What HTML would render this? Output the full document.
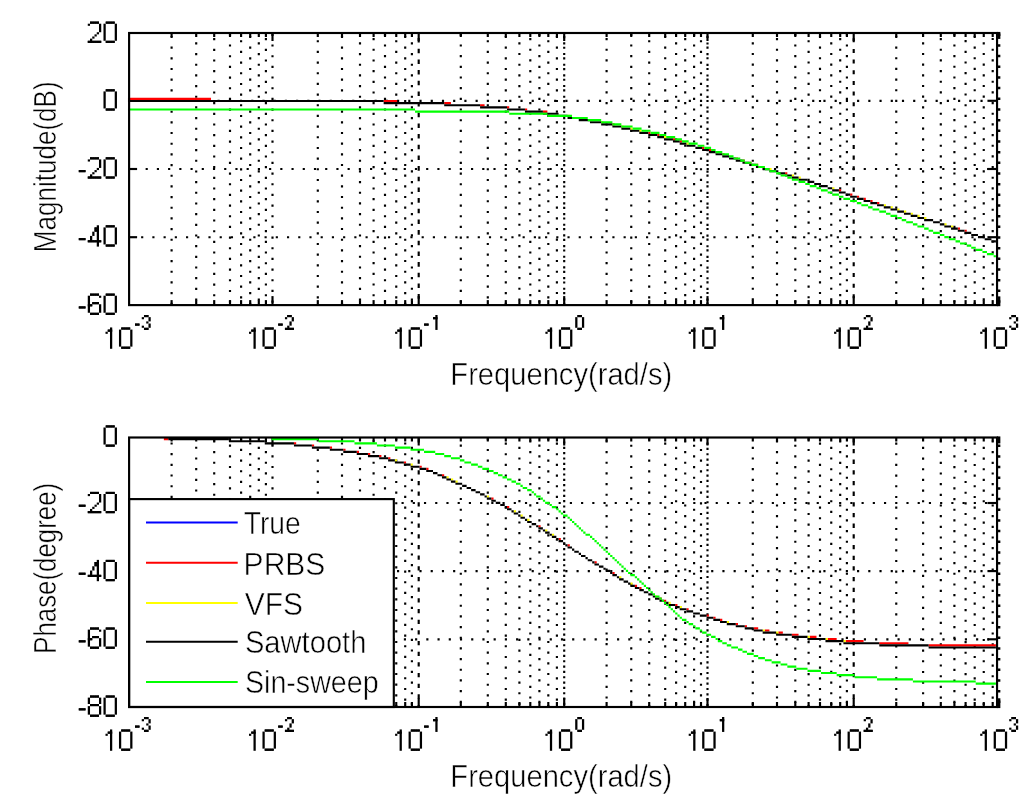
<!DOCTYPE html>
<html lang="en">
<head>
<meta charset="utf-8">
<title>Bode plot</title>
<style>
html,body{margin:0;padding:0;background:#fff;}
body{width:1024px;height:802px;overflow:hidden;font-family:"Liberation Sans",sans-serif;}
svg{display:block;}
</style>
</head>
<body>
<svg width="1024" height="802" viewBox="0 0 1024 802" font-family='"Liberation Sans", sans-serif' fill="#000">
<rect width="1024" height="802" fill="#fff"/>
<line x1="171.6" y1="33" x2="171.6" y2="305.1" stroke="#000" stroke-width="2.15" stroke-dasharray="2.15 8.52" stroke-dashoffset="-2.94"/>
<line x1="196.2" y1="33" x2="196.2" y2="305.1" stroke="#000" stroke-width="2.15" stroke-dasharray="2.15 8.52" stroke-dashoffset="-9.34"/>
<line x1="214.2" y1="33" x2="214.2" y2="305.1" stroke="#000" stroke-width="2.15" stroke-dasharray="2.15 8.52" stroke-dashoffset="-5.07"/>
<line x1="230" y1="33" x2="230" y2="305.1" stroke="#000" stroke-width="2.15" stroke-dasharray="2.15 8.52" stroke-dashoffset="-0.8"/>
<line x1="241.1" y1="33" x2="241.1" y2="305.1" stroke="#000" stroke-width="2.15" stroke-dasharray="2.15 8.52" stroke-dashoffset="-7.2"/>
<line x1="250.2" y1="33" x2="250.2" y2="305.1" stroke="#000" stroke-width="2.15" stroke-dasharray="2.15 8.52" stroke-dashoffset="-2.92"/>
<line x1="258.8" y1="33" x2="258.8" y2="305.1" stroke="#000" stroke-width="2.15" stroke-dasharray="2.15 8.52" stroke-dashoffset="-9.33"/>
<line x1="265.9" y1="33" x2="265.9" y2="305.1" stroke="#000" stroke-width="2.15" stroke-dasharray="2.15 8.52" stroke-dashoffset="-5.06"/>
<line x1="272.5" y1="33" x2="272.5" y2="305.1" stroke="#000" stroke-width="2.15" stroke-dasharray="2.15 8.52" stroke-dashoffset="-0.79"/>
<line x1="317.8" y1="33" x2="317.8" y2="305.1" stroke="#000" stroke-width="2.15" stroke-dasharray="2.15 8.52" stroke-dashoffset="-7.18"/>
<line x1="342" y1="33" x2="342" y2="305.1" stroke="#000" stroke-width="2.15" stroke-dasharray="2.15 8.52" stroke-dashoffset="-2.91"/>
<line x1="360" y1="33" x2="360" y2="305.1" stroke="#000" stroke-width="2.15" stroke-dasharray="2.15 8.52" stroke-dashoffset="-9.32"/>
<line x1="373.6" y1="33" x2="373.6" y2="305.1" stroke="#000" stroke-width="2.15" stroke-dasharray="2.15 8.52" stroke-dashoffset="-5.05"/>
<line x1="385" y1="33" x2="385" y2="305.1" stroke="#000" stroke-width="2.15" stroke-dasharray="2.15 8.52" stroke-dashoffset="-0.78"/>
<line x1="396.25" y1="33" x2="396.25" y2="305.1" stroke="#000" stroke-width="2.15" stroke-dasharray="2.15 8.52" stroke-dashoffset="-7.18"/>
<line x1="405.2" y1="33" x2="405.2" y2="305.1" stroke="#000" stroke-width="2.15" stroke-dasharray="2.15 8.52" stroke-dashoffset="-2.9"/>
<line x1="411.9" y1="33" x2="411.9" y2="305.1" stroke="#000" stroke-width="2.15" stroke-dasharray="2.15 8.52" stroke-dashoffset="-9.31"/>
<line x1="418.7" y1="33" x2="418.7" y2="305.1" stroke="#000" stroke-width="2.15" stroke-dasharray="4.55 6.12" stroke-dashoffset="-5.04"/>
<line x1="460.8" y1="33" x2="460.8" y2="305.1" stroke="#000" stroke-width="2.15" stroke-dasharray="2.15 8.52" stroke-dashoffset="-0.77"/>
<line x1="487.8" y1="33" x2="487.8" y2="305.1" stroke="#000" stroke-width="2.15" stroke-dasharray="2.15 8.52" stroke-dashoffset="-7.17"/>
<line x1="505.8" y1="33" x2="505.8" y2="305.1" stroke="#000" stroke-width="2.15" stroke-dasharray="2.15 8.52" stroke-dashoffset="-2.9"/>
<line x1="519.4" y1="33" x2="519.4" y2="305.1" stroke="#000" stroke-width="2.15" stroke-dasharray="2.15 8.52" stroke-dashoffset="-9.3"/>
<line x1="530.3" y1="33" x2="530.3" y2="305.1" stroke="#000" stroke-width="2.15" stroke-dasharray="2.15 8.52" stroke-dashoffset="-5.03"/>
<line x1="539.4" y1="33" x2="539.4" y2="305.1" stroke="#000" stroke-width="2.15" stroke-dasharray="2.15 8.52" stroke-dashoffset="-0.76"/>
<line x1="548.3" y1="33" x2="548.3" y2="305.1" stroke="#000" stroke-width="2.15" stroke-dasharray="2.15 8.52" stroke-dashoffset="-7.16"/>
<line x1="556.9" y1="33" x2="556.9" y2="305.1" stroke="#000" stroke-width="2.15" stroke-dasharray="2.15 8.52" stroke-dashoffset="-2.89"/>
<line x1="564.2" y1="33" x2="564.2" y2="305.1" stroke="#000" stroke-width="2.15" stroke-dasharray="2.15 8.52" stroke-dashoffset="-9.29"/>
<line x1="564.2" y1="33" x2="564.2" y2="305.1" stroke="#000" stroke-width="2.15" stroke-dasharray="2.15 8.52" stroke-dashoffset="-3.02"/>
<line x1="606.6" y1="33" x2="606.6" y2="305.1" stroke="#000" stroke-width="2.15" stroke-dasharray="2.15 8.52" stroke-dashoffset="-5.02"/>
<line x1="631.25" y1="33" x2="631.25" y2="305.1" stroke="#000" stroke-width="2.15" stroke-dasharray="2.15 8.52" stroke-dashoffset="-0.75"/>
<line x1="649.2" y1="33" x2="649.2" y2="305.1" stroke="#000" stroke-width="2.15" stroke-dasharray="2.15 8.52" stroke-dashoffset="-7.15"/>
<line x1="665.2" y1="33" x2="665.2" y2="305.1" stroke="#000" stroke-width="2.15" stroke-dasharray="2.15 8.52" stroke-dashoffset="-2.88"/>
<line x1="676.1" y1="33" x2="676.1" y2="305.1" stroke="#000" stroke-width="2.15" stroke-dasharray="2.15 8.52" stroke-dashoffset="-9.28"/>
<line x1="685.2" y1="33" x2="685.2" y2="305.1" stroke="#000" stroke-width="2.15" stroke-dasharray="2.15 8.52" stroke-dashoffset="-5.01"/>
<line x1="694.1" y1="33" x2="694.1" y2="305.1" stroke="#000" stroke-width="2.15" stroke-dasharray="2.15 8.52" stroke-dashoffset="-0.74"/>
<line x1="701" y1="33" x2="701" y2="305.1" stroke="#000" stroke-width="2.15" stroke-dasharray="2.15 8.52" stroke-dashoffset="-7.14"/>
<line x1="707.5" y1="33" x2="707.5" y2="305.1" stroke="#000" stroke-width="2.15" stroke-dasharray="2.15 8.52" stroke-dashoffset="-2.87"/>
<line x1="707.5" y1="33" x2="707.5" y2="305.1" stroke="#000" stroke-width="2.15" stroke-dasharray="2.15 8.52" stroke-dashoffset="-9.44"/>
<line x1="752.8" y1="33" x2="752.8" y2="305.1" stroke="#000" stroke-width="2.15" stroke-dasharray="2.15 8.52" stroke-dashoffset="-9.27"/>
<line x1="777" y1="33" x2="777" y2="305.1" stroke="#000" stroke-width="2.15" stroke-dasharray="2.15 8.52" stroke-dashoffset="-5"/>
<line x1="795.3" y1="33" x2="795.3" y2="305.1" stroke="#000" stroke-width="2.15" stroke-dasharray="2.15 8.52" stroke-dashoffset="-0.73"/>
<line x1="808.6" y1="33" x2="808.6" y2="305.1" stroke="#000" stroke-width="2.15" stroke-dasharray="2.15 8.52" stroke-dashoffset="-7.13"/>
<line x1="820" y1="33" x2="820" y2="305.1" stroke="#000" stroke-width="2.15" stroke-dasharray="2.15 8.52" stroke-dashoffset="-2.86"/>
<line x1="831.25" y1="33" x2="831.25" y2="305.1" stroke="#000" stroke-width="2.15" stroke-dasharray="2.15 8.52" stroke-dashoffset="-9.26"/>
<line x1="840.2" y1="33" x2="840.2" y2="305.1" stroke="#000" stroke-width="2.15" stroke-dasharray="2.15 8.52" stroke-dashoffset="-4.99"/>
<line x1="846.9" y1="33" x2="846.9" y2="305.1" stroke="#000" stroke-width="2.15" stroke-dasharray="2.15 8.52" stroke-dashoffset="-0.72"/>
<line x1="853.7" y1="33" x2="853.7" y2="305.1" stroke="#000" stroke-width="2.15" stroke-dasharray="4.05 6.62" stroke-dashoffset="-5.22"/>
<line x1="896.25" y1="33" x2="896.25" y2="305.1" stroke="#000" stroke-width="2.15" stroke-dasharray="2.15 8.52" stroke-dashoffset="-2.85"/>
<line x1="923.1" y1="33" x2="923.1" y2="305.1" stroke="#000" stroke-width="2.15" stroke-dasharray="2.15 8.52" stroke-dashoffset="-9.25"/>
<line x1="940.8" y1="33" x2="940.8" y2="305.1" stroke="#000" stroke-width="2.15" stroke-dasharray="2.15 8.52" stroke-dashoffset="-4.98"/>
<line x1="954.4" y1="33" x2="954.4" y2="305.1" stroke="#000" stroke-width="2.15" stroke-dasharray="2.15 8.52" stroke-dashoffset="-0.71"/>
<line x1="965.6" y1="33" x2="965.6" y2="305.1" stroke="#000" stroke-width="2.15" stroke-dasharray="2.15 8.52" stroke-dashoffset="-7.11"/>
<line x1="974.7" y1="33" x2="974.7" y2="305.1" stroke="#000" stroke-width="2.15" stroke-dasharray="2.15 8.52" stroke-dashoffset="-2.84"/>
<line x1="983.75" y1="33" x2="983.75" y2="305.1" stroke="#000" stroke-width="2.15" stroke-dasharray="2.15 8.52" stroke-dashoffset="-9.24"/>
<line x1="992.7" y1="33" x2="992.7" y2="305.1" stroke="#000" stroke-width="2.15" stroke-dasharray="2.15 8.52" stroke-dashoffset="-4.97"/>
<line x1="999.15" y1="33" x2="999.15" y2="305.1" stroke="#000" stroke-width="2.4" stroke-dasharray="2.5 8.17" stroke-dashoffset="-0.52"/>
<line x1="138.1" y1="100.8" x2="989.05" y2="100.8" stroke="#000" stroke-width="2.15" stroke-dasharray="2.15 9.07" stroke-dashoffset="-0.87"/>
<line x1="138.1" y1="169" x2="989.05" y2="169" stroke="#000" stroke-width="2.15" stroke-dasharray="2.15 9.07" stroke-dashoffset="-7.53"/>
<line x1="138.1" y1="237.2" x2="989.05" y2="237.2" stroke="#000" stroke-width="2.15" stroke-dasharray="2.15 9.07" stroke-dashoffset="-3.02"/>
<line x1="171.6" y1="305.1" x2="171.6" y2="300.1" stroke="#000" stroke-width="2.15"/>
<line x1="171.6" y1="33" x2="171.6" y2="37" stroke="#000" stroke-width="2.15"/>
<line x1="196.2" y1="305.1" x2="196.2" y2="300.1" stroke="#000" stroke-width="2.15"/>
<line x1="196.2" y1="33" x2="196.2" y2="37" stroke="#000" stroke-width="2.15"/>
<line x1="214.2" y1="305.1" x2="214.2" y2="300.1" stroke="#000" stroke-width="2.15"/>
<line x1="214.2" y1="33" x2="214.2" y2="37" stroke="#000" stroke-width="2.15"/>
<line x1="230" y1="305.1" x2="230" y2="300.1" stroke="#000" stroke-width="2.15"/>
<line x1="230" y1="33" x2="230" y2="37" stroke="#000" stroke-width="2.15"/>
<line x1="241.1" y1="305.1" x2="241.1" y2="300.1" stroke="#000" stroke-width="2.15"/>
<line x1="241.1" y1="33" x2="241.1" y2="37" stroke="#000" stroke-width="2.15"/>
<line x1="250.2" y1="305.1" x2="250.2" y2="300.1" stroke="#000" stroke-width="2.15"/>
<line x1="250.2" y1="33" x2="250.2" y2="37" stroke="#000" stroke-width="2.15"/>
<line x1="258.8" y1="305.1" x2="258.8" y2="300.1" stroke="#000" stroke-width="2.15"/>
<line x1="258.8" y1="33" x2="258.8" y2="37" stroke="#000" stroke-width="2.15"/>
<line x1="265.9" y1="305.1" x2="265.9" y2="300.1" stroke="#000" stroke-width="2.15"/>
<line x1="265.9" y1="33" x2="265.9" y2="37" stroke="#000" stroke-width="2.15"/>
<line x1="272.5" y1="305.1" x2="272.5" y2="296.1" stroke="#000" stroke-width="2.15"/>
<line x1="272.5" y1="33" x2="272.5" y2="41" stroke="#000" stroke-width="2.15"/>
<line x1="317.8" y1="305.1" x2="317.8" y2="300.1" stroke="#000" stroke-width="2.15"/>
<line x1="317.8" y1="33" x2="317.8" y2="37" stroke="#000" stroke-width="2.15"/>
<line x1="342" y1="305.1" x2="342" y2="300.1" stroke="#000" stroke-width="2.15"/>
<line x1="342" y1="33" x2="342" y2="37" stroke="#000" stroke-width="2.15"/>
<line x1="360" y1="305.1" x2="360" y2="300.1" stroke="#000" stroke-width="2.15"/>
<line x1="360" y1="33" x2="360" y2="37" stroke="#000" stroke-width="2.15"/>
<line x1="373.6" y1="305.1" x2="373.6" y2="300.1" stroke="#000" stroke-width="2.15"/>
<line x1="373.6" y1="33" x2="373.6" y2="37" stroke="#000" stroke-width="2.15"/>
<line x1="385" y1="305.1" x2="385" y2="300.1" stroke="#000" stroke-width="2.15"/>
<line x1="385" y1="33" x2="385" y2="37" stroke="#000" stroke-width="2.15"/>
<line x1="396.25" y1="305.1" x2="396.25" y2="300.1" stroke="#000" stroke-width="2.15"/>
<line x1="396.25" y1="33" x2="396.25" y2="37" stroke="#000" stroke-width="2.15"/>
<line x1="405.2" y1="305.1" x2="405.2" y2="300.1" stroke="#000" stroke-width="2.15"/>
<line x1="405.2" y1="33" x2="405.2" y2="37" stroke="#000" stroke-width="2.15"/>
<line x1="411.9" y1="305.1" x2="411.9" y2="300.1" stroke="#000" stroke-width="2.15"/>
<line x1="411.9" y1="33" x2="411.9" y2="37" stroke="#000" stroke-width="2.15"/>
<line x1="418.7" y1="305.1" x2="418.7" y2="296.1" stroke="#000" stroke-width="2.15"/>
<line x1="418.7" y1="33" x2="418.7" y2="41" stroke="#000" stroke-width="2.15"/>
<line x1="460.8" y1="305.1" x2="460.8" y2="300.1" stroke="#000" stroke-width="2.15"/>
<line x1="460.8" y1="33" x2="460.8" y2="37" stroke="#000" stroke-width="2.15"/>
<line x1="487.8" y1="305.1" x2="487.8" y2="300.1" stroke="#000" stroke-width="2.15"/>
<line x1="487.8" y1="33" x2="487.8" y2="37" stroke="#000" stroke-width="2.15"/>
<line x1="505.8" y1="305.1" x2="505.8" y2="300.1" stroke="#000" stroke-width="2.15"/>
<line x1="505.8" y1="33" x2="505.8" y2="37" stroke="#000" stroke-width="2.15"/>
<line x1="519.4" y1="305.1" x2="519.4" y2="300.1" stroke="#000" stroke-width="2.15"/>
<line x1="519.4" y1="33" x2="519.4" y2="37" stroke="#000" stroke-width="2.15"/>
<line x1="530.3" y1="305.1" x2="530.3" y2="300.1" stroke="#000" stroke-width="2.15"/>
<line x1="530.3" y1="33" x2="530.3" y2="37" stroke="#000" stroke-width="2.15"/>
<line x1="539.4" y1="305.1" x2="539.4" y2="300.1" stroke="#000" stroke-width="2.15"/>
<line x1="539.4" y1="33" x2="539.4" y2="37" stroke="#000" stroke-width="2.15"/>
<line x1="548.3" y1="305.1" x2="548.3" y2="300.1" stroke="#000" stroke-width="2.15"/>
<line x1="548.3" y1="33" x2="548.3" y2="37" stroke="#000" stroke-width="2.15"/>
<line x1="556.9" y1="305.1" x2="556.9" y2="300.1" stroke="#000" stroke-width="2.15"/>
<line x1="556.9" y1="33" x2="556.9" y2="37" stroke="#000" stroke-width="2.15"/>
<line x1="564.2" y1="305.1" x2="564.2" y2="296.1" stroke="#000" stroke-width="2.15"/>
<line x1="564.2" y1="33" x2="564.2" y2="41" stroke="#000" stroke-width="2.15"/>
<line x1="606.6" y1="305.1" x2="606.6" y2="300.1" stroke="#000" stroke-width="2.15"/>
<line x1="606.6" y1="33" x2="606.6" y2="37" stroke="#000" stroke-width="2.15"/>
<line x1="631.25" y1="305.1" x2="631.25" y2="300.1" stroke="#000" stroke-width="2.15"/>
<line x1="631.25" y1="33" x2="631.25" y2="37" stroke="#000" stroke-width="2.15"/>
<line x1="649.2" y1="305.1" x2="649.2" y2="300.1" stroke="#000" stroke-width="2.15"/>
<line x1="649.2" y1="33" x2="649.2" y2="37" stroke="#000" stroke-width="2.15"/>
<line x1="665.2" y1="305.1" x2="665.2" y2="300.1" stroke="#000" stroke-width="2.15"/>
<line x1="665.2" y1="33" x2="665.2" y2="37" stroke="#000" stroke-width="2.15"/>
<line x1="676.1" y1="305.1" x2="676.1" y2="300.1" stroke="#000" stroke-width="2.15"/>
<line x1="676.1" y1="33" x2="676.1" y2="37" stroke="#000" stroke-width="2.15"/>
<line x1="685.2" y1="305.1" x2="685.2" y2="300.1" stroke="#000" stroke-width="2.15"/>
<line x1="685.2" y1="33" x2="685.2" y2="37" stroke="#000" stroke-width="2.15"/>
<line x1="694.1" y1="305.1" x2="694.1" y2="300.1" stroke="#000" stroke-width="2.15"/>
<line x1="694.1" y1="33" x2="694.1" y2="37" stroke="#000" stroke-width="2.15"/>
<line x1="701" y1="305.1" x2="701" y2="300.1" stroke="#000" stroke-width="2.15"/>
<line x1="701" y1="33" x2="701" y2="37" stroke="#000" stroke-width="2.15"/>
<line x1="707.5" y1="305.1" x2="707.5" y2="296.1" stroke="#000" stroke-width="2.15"/>
<line x1="707.5" y1="33" x2="707.5" y2="41" stroke="#000" stroke-width="2.15"/>
<line x1="752.8" y1="305.1" x2="752.8" y2="300.1" stroke="#000" stroke-width="2.15"/>
<line x1="752.8" y1="33" x2="752.8" y2="37" stroke="#000" stroke-width="2.15"/>
<line x1="777" y1="305.1" x2="777" y2="300.1" stroke="#000" stroke-width="2.15"/>
<line x1="777" y1="33" x2="777" y2="37" stroke="#000" stroke-width="2.15"/>
<line x1="795.3" y1="305.1" x2="795.3" y2="300.1" stroke="#000" stroke-width="2.15"/>
<line x1="795.3" y1="33" x2="795.3" y2="37" stroke="#000" stroke-width="2.15"/>
<line x1="808.6" y1="305.1" x2="808.6" y2="300.1" stroke="#000" stroke-width="2.15"/>
<line x1="808.6" y1="33" x2="808.6" y2="37" stroke="#000" stroke-width="2.15"/>
<line x1="820" y1="305.1" x2="820" y2="300.1" stroke="#000" stroke-width="2.15"/>
<line x1="820" y1="33" x2="820" y2="37" stroke="#000" stroke-width="2.15"/>
<line x1="831.25" y1="305.1" x2="831.25" y2="300.1" stroke="#000" stroke-width="2.15"/>
<line x1="831.25" y1="33" x2="831.25" y2="37" stroke="#000" stroke-width="2.15"/>
<line x1="840.2" y1="305.1" x2="840.2" y2="300.1" stroke="#000" stroke-width="2.15"/>
<line x1="840.2" y1="33" x2="840.2" y2="37" stroke="#000" stroke-width="2.15"/>
<line x1="846.9" y1="305.1" x2="846.9" y2="300.1" stroke="#000" stroke-width="2.15"/>
<line x1="846.9" y1="33" x2="846.9" y2="37" stroke="#000" stroke-width="2.15"/>
<line x1="853.7" y1="305.1" x2="853.7" y2="296.1" stroke="#000" stroke-width="2.15"/>
<line x1="853.7" y1="33" x2="853.7" y2="41" stroke="#000" stroke-width="2.15"/>
<line x1="896.25" y1="305.1" x2="896.25" y2="300.1" stroke="#000" stroke-width="2.15"/>
<line x1="896.25" y1="33" x2="896.25" y2="37" stroke="#000" stroke-width="2.15"/>
<line x1="923.1" y1="305.1" x2="923.1" y2="300.1" stroke="#000" stroke-width="2.15"/>
<line x1="923.1" y1="33" x2="923.1" y2="37" stroke="#000" stroke-width="2.15"/>
<line x1="940.8" y1="305.1" x2="940.8" y2="300.1" stroke="#000" stroke-width="2.15"/>
<line x1="940.8" y1="33" x2="940.8" y2="37" stroke="#000" stroke-width="2.15"/>
<line x1="954.4" y1="305.1" x2="954.4" y2="300.1" stroke="#000" stroke-width="2.15"/>
<line x1="954.4" y1="33" x2="954.4" y2="37" stroke="#000" stroke-width="2.15"/>
<line x1="965.6" y1="305.1" x2="965.6" y2="300.1" stroke="#000" stroke-width="2.15"/>
<line x1="965.6" y1="33" x2="965.6" y2="37" stroke="#000" stroke-width="2.15"/>
<line x1="974.7" y1="305.1" x2="974.7" y2="300.1" stroke="#000" stroke-width="2.15"/>
<line x1="974.7" y1="33" x2="974.7" y2="37" stroke="#000" stroke-width="2.15"/>
<line x1="983.75" y1="305.1" x2="983.75" y2="300.1" stroke="#000" stroke-width="2.15"/>
<line x1="983.75" y1="33" x2="983.75" y2="37" stroke="#000" stroke-width="2.15"/>
<line x1="992.7" y1="305.1" x2="992.7" y2="300.1" stroke="#000" stroke-width="2.15"/>
<line x1="992.7" y1="33" x2="992.7" y2="37" stroke="#000" stroke-width="2.15"/>
<line x1="129.1" y1="100.8" x2="137.1" y2="100.8" stroke="#000" stroke-width="2.15"/>
<line x1="997.05" y1="100.8" x2="987.45" y2="100.8" stroke="#000" stroke-width="2.15"/>
<line x1="129.1" y1="169" x2="137.1" y2="169" stroke="#000" stroke-width="2.15"/>
<line x1="997.05" y1="169" x2="987.45" y2="169" stroke="#000" stroke-width="2.15"/>
<line x1="129.1" y1="237.2" x2="137.1" y2="237.2" stroke="#000" stroke-width="2.15"/>
<line x1="997.05" y1="237.2" x2="987.45" y2="237.2" stroke="#000" stroke-width="2.15"/>
<path fill="#f00" d="M127.98 97.85h82.98v2.13h-82.98zM383.65 99.98h13.46v2.13h-13.46zM444.2 102.1h6.73v2.13h-6.73zM480.08 104.23h4.49v2.13h-4.49zM506.99 106.35h2.24v2.13h-2.24zM524.94 108.48h2.24v2.13h-2.24zM542.88 110.61h4.49v2.13h-4.49zM578.76 116.98h2.24v2.13h-2.24zM612.4 123.36h2.24v2.13h-2.24zM648.29 131.87h2.24v2.13h-2.24zM657.26 133.99h2.24v2.13h-2.24zM672.95 138.25h2.24v2.13h-2.24zM679.68 140.37h2.24v2.13h-2.24zM702.11 146.75h2.24v2.13h-2.24zM708.84 148.88h2.24v2.13h-2.24zM715.57 151h2.24v2.13h-2.24zM722.29 153.13h2.24v2.13h-2.24zM735.75 157.38h2.24v2.13h-2.24zM742.48 159.51h2.24v2.13h-2.24zM749.21 161.64h2.24v2.13h-2.24zM755.93 163.76h2.24v2.13h-2.24zM785.09 172.27h2.24v2.13h-2.24zM838.91 189.28h2.24v2.13h-2.24zM850.13 193.53h2.24v2.13h-2.24zM856.86 195.65h2.24v2.13h-2.24zM863.58 197.78h2.24v2.13h-2.24zM870.31 199.91h2.24v2.13h-2.24zM877.04 202.03h2.24v2.13h-2.24zM957.78 227.55h2.24v2.13h-2.24zM964.51 229.67h2.24v2.13h-2.24z"/>
<path fill="#ff0" d="M567.55 114.86h2.24v2.13h-2.24zM589.97 119.11h2.24v2.13h-2.24zM601.19 121.24h2.24v2.13h-2.24zM621.37 125.49h2.24v2.13h-2.24zM630.34 127.62h2.24v2.13h-2.24zM639.31 129.74h2.24v2.13h-2.24zM663.98 136.12h2.24v2.13h-2.24zM686.41 142.5h2.24v2.13h-2.24zM762.66 165.89h2.24v2.13h-2.24zM769.39 168.01h2.24v2.13h-2.24zM791.82 174.39h2.24v2.13h-2.24zM798.55 176.52h2.24v2.13h-2.24zM832.19 187.15h2.24v2.13h-2.24zM883.77 204.16h2.24v2.13h-2.24zM890.5 206.29h2.24v2.13h-2.24zM897.22 208.41h2.24v2.13h-2.24zM903.95 210.54h2.24v2.13h-2.24zM910.68 212.66h2.24v2.13h-2.24zM917.41 214.79h2.24v2.13h-2.24zM924.14 216.92h2.24v2.13h-2.24zM944.32 223.29h2.24v2.13h-2.24zM951.05 225.42h2.24v2.13h-2.24z"/>
<path fill="#000" d="M127.98 99.98h255.67v2.13h-255.67zM383.65 102.1h60.55v2.13h-60.55zM444.2 104.23h35.88v2.13h-35.88zM480.08 106.35h26.91v2.13h-26.91zM506.99 108.48h17.94v2.13h-17.94zM524.94 110.61h17.94v2.13h-17.94zM542.88 112.73h15.7v2.13h-15.7zM558.58 114.86h8.97v2.13h-8.97zM567.55 116.98h11.21v2.13h-11.21zM578.76 119.11h11.21v2.13h-11.21zM589.97 121.24h11.21v2.13h-11.21zM601.19 123.36h11.21v2.13h-11.21zM612.4 125.49h8.97v2.13h-8.97zM621.37 127.62h8.97v2.13h-8.97zM630.34 129.74h8.97v2.13h-8.97zM639.31 131.87h8.97v2.13h-8.97zM648.29 133.99h8.97v2.13h-8.97zM657.26 136.12h6.73v2.13h-6.73zM663.98 138.25h8.97v2.13h-8.97zM672.95 140.37h6.73v2.13h-6.73zM679.68 142.5h6.73v2.13h-6.73zM686.41 144.63h8.97v2.13h-8.97zM695.38 146.75h6.73v2.13h-6.73zM702.11 148.88h6.73v2.13h-6.73zM708.84 151h6.73v2.13h-6.73zM715.57 153.13h6.73v2.13h-6.73zM722.29 155.26h6.73v2.13h-6.73zM729.02 157.38h6.73v2.13h-6.73zM735.75 159.51h6.73v2.13h-6.73zM742.48 161.64h6.73v2.13h-6.73zM749.21 163.76h6.73v2.13h-6.73zM755.93 165.89h6.73v2.13h-6.73zM762.66 168.01h6.73v2.13h-6.73zM769.39 170.14h8.97v2.13h-8.97zM778.36 172.27h6.73v2.13h-6.73zM785.09 174.39h6.73v2.13h-6.73zM791.82 176.52h6.73v2.13h-6.73zM798.55 178.64h8.97v2.13h-8.97zM807.52 180.77h6.73v2.13h-6.73zM814.24 182.9h6.73v2.13h-6.73zM820.97 185.02h6.73v2.13h-6.73zM827.7 187.15h4.49v2.13h-4.49zM832.19 189.28h6.73v2.13h-6.73zM838.91 191.4h6.73v2.13h-6.73zM845.64 193.53h4.49v2.13h-4.49zM850.13 195.65h6.73v2.13h-6.73zM856.86 197.78h6.73v2.13h-6.73zM863.58 199.91h6.73v2.13h-6.73zM870.31 202.03h6.73v2.13h-6.73zM877.04 204.16h6.73v2.13h-6.73zM883.77 206.29h6.73v2.13h-6.73zM890.5 208.41h6.73v2.13h-6.73zM897.22 210.54h6.73v2.13h-6.73zM903.95 212.66h6.73v2.13h-6.73zM910.68 214.79h6.73v2.13h-6.73zM917.41 216.92h6.73v2.13h-6.73zM924.14 219.04h8.97v2.13h-8.97zM933.11 221.17h6.73v2.13h-6.73zM939.84 223.29h4.49v2.13h-4.49zM944.32 225.42h6.73v2.13h-6.73zM951.05 227.55h6.73v2.13h-6.73zM957.78 229.67h6.73v2.13h-6.73zM964.51 231.8h6.73v2.13h-6.73zM971.23 233.93h6.73v2.13h-6.73zM977.96 236.05h6.73v2.13h-6.73zM984.69 238.18h6.73v2.13h-6.73zM991.42 240.3h4.49v2.13h-4.49z"/>
<path fill="#0f0" d="M127.98 108.48h287.07v2.13h-287.07zM415.04 110.61h94.19v2.13h-94.19zM509.24 112.73h38.13v2.13h-38.13zM547.36 114.86h24.67v2.13h-24.67zM572.03 116.98h15.7v2.13h-15.7zM587.73 119.11h13.46v2.13h-13.46zM601.19 121.24h11.21v2.13h-11.21zM612.4 123.36h8.97v2.13h-8.97zM621.37 125.49h11.21v2.13h-11.21zM632.59 127.62h8.97v2.13h-8.97zM641.56 129.74h8.97v2.13h-8.97zM650.53 131.87h8.97v2.13h-8.97zM659.5 133.99h6.73v2.13h-6.73zM666.23 136.12h8.97v2.13h-8.97zM675.2 138.25h6.73v2.13h-6.73zM681.93 140.37h6.73v2.13h-6.73zM688.65 142.5h8.97v2.13h-8.97zM697.62 144.63h6.73v2.13h-6.73zM704.35 146.75h6.73v2.13h-6.73zM711.08 148.88h4.49v2.13h-4.49zM715.57 151h6.73v2.13h-6.73zM722.29 153.13h6.73v2.13h-6.73zM729.02 155.26h4.49v2.13h-4.49zM733.51 157.38h6.73v2.13h-6.73zM740.24 159.51h4.49v2.13h-4.49zM744.72 161.64h6.73v2.13h-6.73zM751.45 163.76h6.73v2.13h-6.73zM758.18 165.89h6.73v2.13h-6.73zM764.91 168.01h4.49v2.13h-4.49zM769.39 170.14h6.73v2.13h-6.73zM776.12 172.27h4.49v2.13h-4.49zM780.6 174.39h6.73v2.13h-6.73zM787.33 176.52h4.49v2.13h-4.49zM791.82 178.64h6.73v2.13h-6.73zM798.55 180.77h6.73v2.13h-6.73zM805.27 182.9h4.49v2.13h-4.49zM809.76 185.02h6.73v2.13h-6.73zM816.49 187.15h4.49v2.13h-4.49zM820.97 189.28h6.73v2.13h-6.73zM827.7 191.4h4.49v2.13h-4.49zM832.19 193.53h6.73v2.13h-6.73zM838.91 195.65h4.49v2.13h-4.49zM843.4 197.78h6.73v2.13h-6.73zM850.13 199.91h6.73v2.13h-6.73zM856.86 202.03h4.49v2.13h-4.49zM861.34 204.16h6.73v2.13h-6.73zM868.07 206.29h4.49v2.13h-4.49zM872.56 208.41h6.73v2.13h-6.73zM879.28 210.54h6.73v2.13h-6.73zM886.01 212.66h4.49v2.13h-4.49zM890.5 214.79h6.73v2.13h-6.73zM897.22 216.92h4.49v2.13h-4.49zM901.71 219.04h4.49v2.13h-4.49zM906.2 221.17h6.73v2.13h-6.73zM912.92 223.29h4.49v2.13h-4.49zM917.41 225.42h6.73v2.13h-6.73zM924.14 227.55h4.49v2.13h-4.49zM928.62 229.67h4.49v2.13h-4.49zM933.11 231.8h6.73v2.13h-6.73zM939.84 233.93h4.49v2.13h-4.49zM944.32 236.05h4.49v2.13h-4.49zM948.81 238.18h6.73v2.13h-6.73zM955.53 240.3h4.49v2.13h-4.49zM960.02 242.43h6.73v2.13h-6.73zM966.75 244.56h4.49v2.13h-4.49zM971.23 246.68h4.49v2.13h-4.49zM975.72 248.81h6.73v2.13h-6.73zM982.45 250.94h4.49v2.13h-4.49zM986.93 253.06h6.73v2.13h-6.73zM993.66 255.19h2.24v2.13h-2.24z"/>
<rect x="129.1" y="33" width="867.95" height="272.1" fill="none" stroke="#000" stroke-width="2.15"/>
<rect x="996.85" y="31.93" width="3.5" height="7" fill="#000"/>
<rect x="996.85" y="296.38" width="3.5" height="9.8" fill="#000"/>
<line x1="171.6" y1="437.5" x2="171.6" y2="707" stroke="#000" stroke-width="2.15" stroke-dasharray="2.15 8.52" stroke-dashoffset="-4.95"/>
<line x1="196.2" y1="437.5" x2="196.2" y2="707" stroke="#000" stroke-width="2.15" stroke-dasharray="2.15 8.52" stroke-dashoffset="-9.22"/>
<line x1="214.2" y1="437.5" x2="214.2" y2="707" stroke="#000" stroke-width="2.15" stroke-dasharray="2.15 8.52" stroke-dashoffset="-2.81"/>
<line x1="230" y1="437.5" x2="230" y2="707" stroke="#000" stroke-width="2.15" stroke-dasharray="2.15 8.52" stroke-dashoffset="-7.09"/>
<line x1="241.1" y1="437.5" x2="241.1" y2="707" stroke="#000" stroke-width="2.15" stroke-dasharray="2.15 8.52" stroke-dashoffset="-0.69"/>
<line x1="250.2" y1="437.5" x2="250.2" y2="707" stroke="#000" stroke-width="2.15" stroke-dasharray="2.15 8.52" stroke-dashoffset="-4.95"/>
<line x1="258.8" y1="437.5" x2="258.8" y2="707" stroke="#000" stroke-width="2.15" stroke-dasharray="2.15 8.52" stroke-dashoffset="-9.23"/>
<line x1="265.9" y1="437.5" x2="265.9" y2="707" stroke="#000" stroke-width="2.15" stroke-dasharray="2.15 8.52" stroke-dashoffset="-2.83"/>
<line x1="272.5" y1="437.5" x2="272.5" y2="707" stroke="#000" stroke-width="2.15" stroke-dasharray="2.15 8.52" stroke-dashoffset="-7.09"/>
<line x1="317.8" y1="437.5" x2="317.8" y2="707" stroke="#000" stroke-width="2.15" stroke-dasharray="2.15 8.52" stroke-dashoffset="-0.69"/>
<line x1="342" y1="437.5" x2="342" y2="707" stroke="#000" stroke-width="2.15" stroke-dasharray="2.15 8.52" stroke-dashoffset="-4.97"/>
<line x1="360" y1="437.5" x2="360" y2="707" stroke="#000" stroke-width="2.15" stroke-dasharray="2.15 8.52" stroke-dashoffset="-9.23"/>
<line x1="373.6" y1="437.5" x2="373.6" y2="707" stroke="#000" stroke-width="2.15" stroke-dasharray="2.15 8.52" stroke-dashoffset="-2.83"/>
<line x1="385" y1="437.5" x2="385" y2="707" stroke="#000" stroke-width="2.15" stroke-dasharray="2.15 8.52" stroke-dashoffset="-7.11"/>
<line x1="396.25" y1="437.5" x2="396.25" y2="707" stroke="#000" stroke-width="2.15" stroke-dasharray="2.15 8.52" stroke-dashoffset="-0.7"/>
<line x1="405.2" y1="437.5" x2="405.2" y2="707" stroke="#000" stroke-width="2.15" stroke-dasharray="2.15 8.52" stroke-dashoffset="-4.97"/>
<line x1="411.9" y1="437.5" x2="411.9" y2="707" stroke="#000" stroke-width="2.15" stroke-dasharray="2.15 8.52" stroke-dashoffset="-9.24"/>
<line x1="418.7" y1="437.5" x2="418.7" y2="707" stroke="#000" stroke-width="2.15" stroke-dasharray="4.25 6.42" stroke-dashoffset="-0.74"/>
<line x1="460.8" y1="437.5" x2="460.8" y2="707" stroke="#000" stroke-width="2.15" stroke-dasharray="2.15 8.52" stroke-dashoffset="-7.11"/>
<line x1="487.8" y1="437.5" x2="487.8" y2="707" stroke="#000" stroke-width="2.15" stroke-dasharray="2.15 8.52" stroke-dashoffset="-0.72"/>
<line x1="505.8" y1="437.5" x2="505.8" y2="707" stroke="#000" stroke-width="2.15" stroke-dasharray="2.15 8.52" stroke-dashoffset="-4.98"/>
<line x1="519.4" y1="437.5" x2="519.4" y2="707" stroke="#000" stroke-width="2.15" stroke-dasharray="2.15 8.52" stroke-dashoffset="-9.25"/>
<line x1="530.3" y1="437.5" x2="530.3" y2="707" stroke="#000" stroke-width="2.15" stroke-dasharray="2.15 8.52" stroke-dashoffset="-2.85"/>
<line x1="539.4" y1="437.5" x2="539.4" y2="707" stroke="#000" stroke-width="2.15" stroke-dasharray="2.15 8.52" stroke-dashoffset="-7.12"/>
<line x1="548.3" y1="437.5" x2="548.3" y2="707" stroke="#000" stroke-width="2.15" stroke-dasharray="2.15 8.52" stroke-dashoffset="-0.72"/>
<line x1="556.9" y1="437.5" x2="556.9" y2="707" stroke="#000" stroke-width="2.15" stroke-dasharray="2.15 8.52" stroke-dashoffset="-4.99"/>
<line x1="564.2" y1="437.5" x2="564.2" y2="707" stroke="#000" stroke-width="2.15" stroke-dasharray="2.15 8.52" stroke-dashoffset="-9.27"/>
<line x1="564.2" y1="437.5" x2="564.2" y2="707" stroke="#000" stroke-width="2.15" stroke-dasharray="2.15 8.52" stroke-dashoffset="-3.92"/>
<line x1="606.6" y1="437.5" x2="606.6" y2="707" stroke="#000" stroke-width="2.15" stroke-dasharray="2.15 8.52" stroke-dashoffset="-2.86"/>
<line x1="631.25" y1="437.5" x2="631.25" y2="707" stroke="#000" stroke-width="2.15" stroke-dasharray="2.15 8.52" stroke-dashoffset="-7.13"/>
<line x1="649.2" y1="437.5" x2="649.2" y2="707" stroke="#000" stroke-width="2.15" stroke-dasharray="2.15 8.52" stroke-dashoffset="-0.74"/>
<line x1="665.2" y1="437.5" x2="665.2" y2="707" stroke="#000" stroke-width="2.15" stroke-dasharray="2.15 8.52" stroke-dashoffset="-5.01"/>
<line x1="676.1" y1="437.5" x2="676.1" y2="707" stroke="#000" stroke-width="2.15" stroke-dasharray="2.15 8.52" stroke-dashoffset="-9.28"/>
<line x1="685.2" y1="437.5" x2="685.2" y2="707" stroke="#000" stroke-width="2.15" stroke-dasharray="2.15 8.52" stroke-dashoffset="-2.88"/>
<line x1="694.1" y1="437.5" x2="694.1" y2="707" stroke="#000" stroke-width="2.15" stroke-dasharray="2.15 8.52" stroke-dashoffset="-7.14"/>
<line x1="701" y1="437.5" x2="701" y2="707" stroke="#000" stroke-width="2.15" stroke-dasharray="2.15 8.52" stroke-dashoffset="-0.74"/>
<line x1="707.5" y1="437.5" x2="707.5" y2="707" stroke="#000" stroke-width="2.15" stroke-dasharray="2.15 8.52" stroke-dashoffset="-5.02"/>
<line x1="707.5" y1="437.5" x2="707.5" y2="707" stroke="#000" stroke-width="2.15" stroke-dasharray="2.15 8.52" stroke-dashoffset="-10.34"/>
<line x1="752.8" y1="437.5" x2="752.8" y2="707" stroke="#000" stroke-width="2.15" stroke-dasharray="2.15 8.52" stroke-dashoffset="-9.28"/>
<line x1="777" y1="437.5" x2="777" y2="707" stroke="#000" stroke-width="2.15" stroke-dasharray="2.15 8.52" stroke-dashoffset="-2.89"/>
<line x1="795.3" y1="437.5" x2="795.3" y2="707" stroke="#000" stroke-width="2.15" stroke-dasharray="2.15 8.52" stroke-dashoffset="-7.16"/>
<line x1="808.6" y1="437.5" x2="808.6" y2="707" stroke="#000" stroke-width="2.15" stroke-dasharray="2.15 8.52" stroke-dashoffset="-0.75"/>
<line x1="820" y1="437.5" x2="820" y2="707" stroke="#000" stroke-width="2.15" stroke-dasharray="2.15 8.52" stroke-dashoffset="-5.02"/>
<line x1="831.25" y1="437.5" x2="831.25" y2="707" stroke="#000" stroke-width="2.15" stroke-dasharray="2.15 8.52" stroke-dashoffset="-9.3"/>
<line x1="840.2" y1="437.5" x2="840.2" y2="707" stroke="#000" stroke-width="2.15" stroke-dasharray="2.15 8.52" stroke-dashoffset="-2.89"/>
<line x1="846.9" y1="437.5" x2="846.9" y2="707" stroke="#000" stroke-width="2.15" stroke-dasharray="2.15 8.52" stroke-dashoffset="-7.17"/>
<line x1="853.7" y1="437.5" x2="853.7" y2="707" stroke="#000" stroke-width="2.15" stroke-dasharray="4.3 6.37" stroke-dashoffset="-0.76"/>
<line x1="896.25" y1="437.5" x2="896.25" y2="707" stroke="#000" stroke-width="2.15" stroke-dasharray="2.15 8.52" stroke-dashoffset="-5.03"/>
<line x1="923.1" y1="437.5" x2="923.1" y2="707" stroke="#000" stroke-width="2.15" stroke-dasharray="2.15 8.52" stroke-dashoffset="-9.31"/>
<line x1="940.8" y1="437.5" x2="940.8" y2="707" stroke="#000" stroke-width="2.15" stroke-dasharray="2.15 8.52" stroke-dashoffset="-2.9"/>
<line x1="954.4" y1="437.5" x2="954.4" y2="707" stroke="#000" stroke-width="2.15" stroke-dasharray="2.15 8.52" stroke-dashoffset="-7.18"/>
<line x1="965.6" y1="437.5" x2="965.6" y2="707" stroke="#000" stroke-width="2.15" stroke-dasharray="2.15 8.52" stroke-dashoffset="-0.78"/>
<line x1="974.7" y1="437.5" x2="974.7" y2="707" stroke="#000" stroke-width="2.15" stroke-dasharray="2.15 8.52" stroke-dashoffset="-5.04"/>
<line x1="983.75" y1="437.5" x2="983.75" y2="707" stroke="#000" stroke-width="2.15" stroke-dasharray="2.15 8.52" stroke-dashoffset="-9.32"/>
<line x1="992.7" y1="437.5" x2="992.7" y2="707" stroke="#000" stroke-width="2.15" stroke-dasharray="2.15 8.52" stroke-dashoffset="-2.91"/>
<line x1="999.15" y1="437.5" x2="999.15" y2="707" stroke="#000" stroke-width="2.4" stroke-dasharray="2.5 8.17" stroke-dashoffset="-7.01"/>
<line x1="138.1" y1="503" x2="989.05" y2="503" stroke="#000" stroke-width="2.15" stroke-dasharray="2.15 9.07" stroke-dashoffset="-5.37"/>
<line x1="138.1" y1="571.1" x2="989.05" y2="571.1" stroke="#000" stroke-width="2.15" stroke-dasharray="2.15 9.07" stroke-dashoffset="-0.84"/>
<line x1="138.1" y1="639.3" x2="989.05" y2="639.3" stroke="#000" stroke-width="2.15" stroke-dasharray="2.15 9.07" stroke-dashoffset="-7.69"/>
<line x1="171.6" y1="707" x2="171.6" y2="702" stroke="#000" stroke-width="2.15"/>
<line x1="171.6" y1="437.5" x2="171.6" y2="441.5" stroke="#000" stroke-width="2.15"/>
<line x1="196.2" y1="707" x2="196.2" y2="702" stroke="#000" stroke-width="2.15"/>
<line x1="196.2" y1="437.5" x2="196.2" y2="441.5" stroke="#000" stroke-width="2.15"/>
<line x1="214.2" y1="707" x2="214.2" y2="702" stroke="#000" stroke-width="2.15"/>
<line x1="214.2" y1="437.5" x2="214.2" y2="441.5" stroke="#000" stroke-width="2.15"/>
<line x1="230" y1="707" x2="230" y2="702" stroke="#000" stroke-width="2.15"/>
<line x1="230" y1="437.5" x2="230" y2="441.5" stroke="#000" stroke-width="2.15"/>
<line x1="241.1" y1="707" x2="241.1" y2="702" stroke="#000" stroke-width="2.15"/>
<line x1="241.1" y1="437.5" x2="241.1" y2="441.5" stroke="#000" stroke-width="2.15"/>
<line x1="250.2" y1="707" x2="250.2" y2="702" stroke="#000" stroke-width="2.15"/>
<line x1="250.2" y1="437.5" x2="250.2" y2="441.5" stroke="#000" stroke-width="2.15"/>
<line x1="258.8" y1="707" x2="258.8" y2="702" stroke="#000" stroke-width="2.15"/>
<line x1="258.8" y1="437.5" x2="258.8" y2="441.5" stroke="#000" stroke-width="2.15"/>
<line x1="265.9" y1="707" x2="265.9" y2="702" stroke="#000" stroke-width="2.15"/>
<line x1="265.9" y1="437.5" x2="265.9" y2="441.5" stroke="#000" stroke-width="2.15"/>
<line x1="272.5" y1="707" x2="272.5" y2="698" stroke="#000" stroke-width="2.15"/>
<line x1="272.5" y1="437.5" x2="272.5" y2="445.5" stroke="#000" stroke-width="2.15"/>
<line x1="317.8" y1="707" x2="317.8" y2="702" stroke="#000" stroke-width="2.15"/>
<line x1="317.8" y1="437.5" x2="317.8" y2="441.5" stroke="#000" stroke-width="2.15"/>
<line x1="342" y1="707" x2="342" y2="702" stroke="#000" stroke-width="2.15"/>
<line x1="342" y1="437.5" x2="342" y2="441.5" stroke="#000" stroke-width="2.15"/>
<line x1="360" y1="707" x2="360" y2="702" stroke="#000" stroke-width="2.15"/>
<line x1="360" y1="437.5" x2="360" y2="441.5" stroke="#000" stroke-width="2.15"/>
<line x1="373.6" y1="707" x2="373.6" y2="702" stroke="#000" stroke-width="2.15"/>
<line x1="373.6" y1="437.5" x2="373.6" y2="441.5" stroke="#000" stroke-width="2.15"/>
<line x1="385" y1="707" x2="385" y2="702" stroke="#000" stroke-width="2.15"/>
<line x1="385" y1="437.5" x2="385" y2="441.5" stroke="#000" stroke-width="2.15"/>
<line x1="396.25" y1="707" x2="396.25" y2="702" stroke="#000" stroke-width="2.15"/>
<line x1="396.25" y1="437.5" x2="396.25" y2="441.5" stroke="#000" stroke-width="2.15"/>
<line x1="405.2" y1="707" x2="405.2" y2="702" stroke="#000" stroke-width="2.15"/>
<line x1="405.2" y1="437.5" x2="405.2" y2="441.5" stroke="#000" stroke-width="2.15"/>
<line x1="411.9" y1="707" x2="411.9" y2="702" stroke="#000" stroke-width="2.15"/>
<line x1="411.9" y1="437.5" x2="411.9" y2="441.5" stroke="#000" stroke-width="2.15"/>
<line x1="418.7" y1="707" x2="418.7" y2="698" stroke="#000" stroke-width="2.15"/>
<line x1="418.7" y1="437.5" x2="418.7" y2="445.5" stroke="#000" stroke-width="2.15"/>
<line x1="460.8" y1="707" x2="460.8" y2="702" stroke="#000" stroke-width="2.15"/>
<line x1="460.8" y1="437.5" x2="460.8" y2="441.5" stroke="#000" stroke-width="2.15"/>
<line x1="487.8" y1="707" x2="487.8" y2="702" stroke="#000" stroke-width="2.15"/>
<line x1="487.8" y1="437.5" x2="487.8" y2="441.5" stroke="#000" stroke-width="2.15"/>
<line x1="505.8" y1="707" x2="505.8" y2="702" stroke="#000" stroke-width="2.15"/>
<line x1="505.8" y1="437.5" x2="505.8" y2="441.5" stroke="#000" stroke-width="2.15"/>
<line x1="519.4" y1="707" x2="519.4" y2="702" stroke="#000" stroke-width="2.15"/>
<line x1="519.4" y1="437.5" x2="519.4" y2="441.5" stroke="#000" stroke-width="2.15"/>
<line x1="530.3" y1="707" x2="530.3" y2="702" stroke="#000" stroke-width="2.15"/>
<line x1="530.3" y1="437.5" x2="530.3" y2="441.5" stroke="#000" stroke-width="2.15"/>
<line x1="539.4" y1="707" x2="539.4" y2="702" stroke="#000" stroke-width="2.15"/>
<line x1="539.4" y1="437.5" x2="539.4" y2="441.5" stroke="#000" stroke-width="2.15"/>
<line x1="548.3" y1="707" x2="548.3" y2="702" stroke="#000" stroke-width="2.15"/>
<line x1="548.3" y1="437.5" x2="548.3" y2="441.5" stroke="#000" stroke-width="2.15"/>
<line x1="556.9" y1="707" x2="556.9" y2="702" stroke="#000" stroke-width="2.15"/>
<line x1="556.9" y1="437.5" x2="556.9" y2="441.5" stroke="#000" stroke-width="2.15"/>
<line x1="564.2" y1="707" x2="564.2" y2="698" stroke="#000" stroke-width="2.15"/>
<line x1="564.2" y1="437.5" x2="564.2" y2="445.5" stroke="#000" stroke-width="2.15"/>
<line x1="606.6" y1="707" x2="606.6" y2="702" stroke="#000" stroke-width="2.15"/>
<line x1="606.6" y1="437.5" x2="606.6" y2="441.5" stroke="#000" stroke-width="2.15"/>
<line x1="631.25" y1="707" x2="631.25" y2="702" stroke="#000" stroke-width="2.15"/>
<line x1="631.25" y1="437.5" x2="631.25" y2="441.5" stroke="#000" stroke-width="2.15"/>
<line x1="649.2" y1="707" x2="649.2" y2="702" stroke="#000" stroke-width="2.15"/>
<line x1="649.2" y1="437.5" x2="649.2" y2="441.5" stroke="#000" stroke-width="2.15"/>
<line x1="665.2" y1="707" x2="665.2" y2="702" stroke="#000" stroke-width="2.15"/>
<line x1="665.2" y1="437.5" x2="665.2" y2="441.5" stroke="#000" stroke-width="2.15"/>
<line x1="676.1" y1="707" x2="676.1" y2="702" stroke="#000" stroke-width="2.15"/>
<line x1="676.1" y1="437.5" x2="676.1" y2="441.5" stroke="#000" stroke-width="2.15"/>
<line x1="685.2" y1="707" x2="685.2" y2="702" stroke="#000" stroke-width="2.15"/>
<line x1="685.2" y1="437.5" x2="685.2" y2="441.5" stroke="#000" stroke-width="2.15"/>
<line x1="694.1" y1="707" x2="694.1" y2="702" stroke="#000" stroke-width="2.15"/>
<line x1="694.1" y1="437.5" x2="694.1" y2="441.5" stroke="#000" stroke-width="2.15"/>
<line x1="701" y1="707" x2="701" y2="702" stroke="#000" stroke-width="2.15"/>
<line x1="701" y1="437.5" x2="701" y2="441.5" stroke="#000" stroke-width="2.15"/>
<line x1="707.5" y1="707" x2="707.5" y2="698" stroke="#000" stroke-width="2.15"/>
<line x1="707.5" y1="437.5" x2="707.5" y2="445.5" stroke="#000" stroke-width="2.15"/>
<line x1="752.8" y1="707" x2="752.8" y2="702" stroke="#000" stroke-width="2.15"/>
<line x1="752.8" y1="437.5" x2="752.8" y2="441.5" stroke="#000" stroke-width="2.15"/>
<line x1="777" y1="707" x2="777" y2="702" stroke="#000" stroke-width="2.15"/>
<line x1="777" y1="437.5" x2="777" y2="441.5" stroke="#000" stroke-width="2.15"/>
<line x1="795.3" y1="707" x2="795.3" y2="702" stroke="#000" stroke-width="2.15"/>
<line x1="795.3" y1="437.5" x2="795.3" y2="441.5" stroke="#000" stroke-width="2.15"/>
<line x1="808.6" y1="707" x2="808.6" y2="702" stroke="#000" stroke-width="2.15"/>
<line x1="808.6" y1="437.5" x2="808.6" y2="441.5" stroke="#000" stroke-width="2.15"/>
<line x1="820" y1="707" x2="820" y2="702" stroke="#000" stroke-width="2.15"/>
<line x1="820" y1="437.5" x2="820" y2="441.5" stroke="#000" stroke-width="2.15"/>
<line x1="831.25" y1="707" x2="831.25" y2="702" stroke="#000" stroke-width="2.15"/>
<line x1="831.25" y1="437.5" x2="831.25" y2="441.5" stroke="#000" stroke-width="2.15"/>
<line x1="840.2" y1="707" x2="840.2" y2="702" stroke="#000" stroke-width="2.15"/>
<line x1="840.2" y1="437.5" x2="840.2" y2="441.5" stroke="#000" stroke-width="2.15"/>
<line x1="846.9" y1="707" x2="846.9" y2="702" stroke="#000" stroke-width="2.15"/>
<line x1="846.9" y1="437.5" x2="846.9" y2="441.5" stroke="#000" stroke-width="2.15"/>
<line x1="853.7" y1="707" x2="853.7" y2="698" stroke="#000" stroke-width="2.15"/>
<line x1="853.7" y1="437.5" x2="853.7" y2="445.5" stroke="#000" stroke-width="2.15"/>
<line x1="896.25" y1="707" x2="896.25" y2="702" stroke="#000" stroke-width="2.15"/>
<line x1="896.25" y1="437.5" x2="896.25" y2="441.5" stroke="#000" stroke-width="2.15"/>
<line x1="923.1" y1="707" x2="923.1" y2="702" stroke="#000" stroke-width="2.15"/>
<line x1="923.1" y1="437.5" x2="923.1" y2="441.5" stroke="#000" stroke-width="2.15"/>
<line x1="940.8" y1="707" x2="940.8" y2="702" stroke="#000" stroke-width="2.15"/>
<line x1="940.8" y1="437.5" x2="940.8" y2="441.5" stroke="#000" stroke-width="2.15"/>
<line x1="954.4" y1="707" x2="954.4" y2="702" stroke="#000" stroke-width="2.15"/>
<line x1="954.4" y1="437.5" x2="954.4" y2="441.5" stroke="#000" stroke-width="2.15"/>
<line x1="965.6" y1="707" x2="965.6" y2="702" stroke="#000" stroke-width="2.15"/>
<line x1="965.6" y1="437.5" x2="965.6" y2="441.5" stroke="#000" stroke-width="2.15"/>
<line x1="974.7" y1="707" x2="974.7" y2="702" stroke="#000" stroke-width="2.15"/>
<line x1="974.7" y1="437.5" x2="974.7" y2="441.5" stroke="#000" stroke-width="2.15"/>
<line x1="983.75" y1="707" x2="983.75" y2="702" stroke="#000" stroke-width="2.15"/>
<line x1="983.75" y1="437.5" x2="983.75" y2="441.5" stroke="#000" stroke-width="2.15"/>
<line x1="992.7" y1="707" x2="992.7" y2="702" stroke="#000" stroke-width="2.15"/>
<line x1="992.7" y1="437.5" x2="992.7" y2="441.5" stroke="#000" stroke-width="2.15"/>
<line x1="129.1" y1="503" x2="137.1" y2="503" stroke="#000" stroke-width="2.15"/>
<line x1="997.05" y1="503" x2="987.45" y2="503" stroke="#000" stroke-width="2.15"/>
<line x1="129.1" y1="571.1" x2="137.1" y2="571.1" stroke="#000" stroke-width="2.15"/>
<line x1="997.05" y1="571.1" x2="987.45" y2="571.1" stroke="#000" stroke-width="2.15"/>
<line x1="129.1" y1="639.3" x2="137.1" y2="639.3" stroke="#000" stroke-width="2.15"/>
<line x1="997.05" y1="639.3" x2="987.45" y2="639.3" stroke="#000" stroke-width="2.15"/>
<path fill="#f00" d="M163.86 438.04h4.49v2.13h-4.49zM293.94 442.29h2.24v2.13h-2.24zM311.88 444.42h2.24v2.13h-2.24zM329.82 446.55h2.24v2.13h-2.24zM343.28 448.67h2.24v2.13h-2.24zM356.73 450.8h2.24v2.13h-2.24zM367.95 452.92h2.24v2.13h-2.24zM379.16 455.05h2.24v2.13h-2.24zM388.13 457.18h2.24v2.13h-2.24zM403.83 461.43h2.24v2.13h-2.24zM419.53 465.68h2.24v2.13h-2.24zM426.26 467.81h2.24v2.13h-2.24zM441.96 474.19h2.24v2.13h-2.24zM491.3 497.57h2.24v2.13h-2.24zM506.99 506.08h2.24v2.13h-2.24zM538.39 525.22h2.24v2.13h-2.24zM558.58 537.97h2.24v2.13h-2.24zM567.55 544.35h2.24v2.13h-2.24zM594.46 561.36h2.24v2.13h-2.24zM612.4 571.99h2.24v2.13h-2.24zM634.83 584.75h2.24v2.13h-2.24zM639.31 586.88h2.24v2.13h-2.24zM659.5 597.51h2.24v2.13h-2.24zM663.98 599.63h2.24v2.13h-2.24zM675.2 603.88h2.24v2.13h-2.24zM686.41 608.14h2.24v2.13h-2.24zM706.6 614.52h2.24v2.13h-2.24zM713.32 616.64h2.24v2.13h-2.24zM720.05 618.77h2.24v2.13h-2.24zM735.75 623.02h2.24v2.13h-2.24zM744.72 625.15h2.24v2.13h-2.24zM753.69 627.27h4.49v2.13h-4.49zM764.91 629.4h4.49v2.13h-4.49zM778.36 631.53h4.49v2.13h-4.49zM791.82 633.65h6.73v2.13h-6.73zM809.76 635.78h6.73v2.13h-6.73zM827.7 637.9h8.97v2.13h-8.97zM845.64 640.03h17.94v2.13h-17.94zM879.28 642.16h29.16v2.13h-29.16zM928.62 644.28h67.28v2.13h-67.28z"/>
<path fill="#ff0" d="M394.86 459.3h2.24v2.13h-2.24zM410.56 463.56h2.24v2.13h-2.24zM446.44 476.31h2.24v2.13h-2.24zM450.93 478.44h2.24v2.13h-2.24zM455.41 480.57h2.24v2.13h-2.24zM486.81 495.45h2.24v2.13h-2.24zM513.72 510.33h2.24v2.13h-2.24zM520.45 514.58h2.24v2.13h-2.24zM527.18 518.84h2.24v2.13h-2.24zM545.12 529.47h2.24v2.13h-2.24zM551.85 533.72h2.24v2.13h-2.24zM619.13 576.24h2.24v2.13h-2.24zM630.34 582.62h2.24v2.13h-2.24zM655.01 595.38h2.24v2.13h-2.24zM668.47 601.76h2.24v2.13h-2.24zM679.68 606.01h2.24v2.13h-2.24zM726.78 620.89h2.24v2.13h-2.24zM762.66 629.4h2.24v2.13h-2.24zM776.12 631.53h2.24v2.13h-2.24zM807.52 635.78h2.24v2.13h-2.24zM825.46 637.9h2.24v2.13h-2.24zM843.4 640.03h2.24v2.13h-2.24z"/>
<path fill="#000" d="M168.35 438.04h60.55v2.13h-60.55zM228.9 440.17h35.88v2.13h-35.88zM264.78 442.29h29.16v2.13h-29.16zM293.94 444.42h17.94v2.13h-17.94zM311.88 446.55h17.94v2.13h-17.94zM329.82 448.67h13.46v2.13h-13.46zM343.28 450.8h13.46v2.13h-13.46zM356.73 452.92h11.21v2.13h-11.21zM367.95 455.05h11.21v2.13h-11.21zM379.16 457.18h8.97v2.13h-8.97zM388.13 459.3h6.73v2.13h-6.73zM394.86 461.43h8.97v2.13h-8.97zM403.83 463.56h6.73v2.13h-6.73zM410.56 465.68h8.97v2.13h-8.97zM419.53 467.81h6.73v2.13h-6.73zM426.26 469.93h6.73v2.13h-6.73zM432.99 472.06h4.49v2.13h-4.49zM437.47 474.19h4.49v2.13h-4.49zM441.96 476.31h4.49v2.13h-4.49zM446.44 478.44h4.49v2.13h-4.49zM450.93 480.57h4.49v2.13h-4.49zM455.41 482.69h6.73v2.13h-6.73zM462.14 484.82h4.49v2.13h-4.49zM466.63 486.94h4.49v2.13h-4.49zM471.11 489.07h4.49v2.13h-4.49zM475.6 491.2h4.49v2.13h-4.49zM480.08 493.32h4.49v2.13h-4.49zM484.57 495.45h2.24v2.13h-2.24zM486.81 497.57h4.49v2.13h-4.49zM491.3 499.7h4.49v2.13h-4.49zM495.78 501.83h4.49v2.13h-4.49zM500.27 503.95h4.49v2.13h-4.49zM504.75 506.08h2.24v2.13h-2.24zM506.99 508.21h4.49v2.13h-4.49zM511.48 510.33h2.24v2.13h-2.24zM513.72 512.46h4.49v2.13h-4.49zM518.21 514.58h2.24v2.13h-2.24zM520.45 516.71h4.49v2.13h-4.49zM524.94 518.84h2.24v2.13h-2.24zM527.18 520.96h4.49v2.13h-4.49zM531.66 523.09h4.49v2.13h-4.49zM536.15 525.22h2.24v2.13h-2.24zM538.39 527.34h4.49v2.13h-4.49zM542.88 529.47h2.24v2.13h-2.24zM545.12 531.59h4.49v2.13h-4.49zM549.61 533.72h2.24v2.13h-2.24zM551.85 535.85h4.49v2.13h-4.49zM556.33 537.97h2.24v2.13h-2.24zM558.58 540.1h4.49v2.13h-4.49zM563.06 542.22h2.24v2.13h-2.24zM565.31 544.35h2.24v2.13h-2.24zM567.55 546.48h4.49v2.13h-4.49zM572.03 548.6h2.24v2.13h-2.24zM574.28 550.73h4.49v2.13h-4.49zM578.76 552.86h2.24v2.13h-2.24zM581 554.98h4.49v2.13h-4.49zM585.49 557.11h2.24v2.13h-2.24zM587.73 559.23h4.49v2.13h-4.49zM592.22 561.36h2.24v2.13h-2.24zM594.46 563.49h4.49v2.13h-4.49zM598.95 565.61h4.49v2.13h-4.49zM603.43 567.74h2.24v2.13h-2.24zM605.67 569.87h4.49v2.13h-4.49zM610.16 571.99h2.24v2.13h-2.24zM612.4 574.12h4.49v2.13h-4.49zM616.89 576.24h2.24v2.13h-2.24zM619.13 578.37h4.49v2.13h-4.49zM623.62 580.5h4.49v2.13h-4.49zM628.1 582.62h2.24v2.13h-2.24zM630.34 584.75h4.49v2.13h-4.49zM634.83 586.88h4.49v2.13h-4.49zM639.31 589h4.49v2.13h-4.49zM643.8 591.13h4.49v2.13h-4.49zM648.29 593.25h4.49v2.13h-4.49zM652.77 595.38h2.24v2.13h-2.24zM655.01 597.51h4.49v2.13h-4.49zM659.5 599.63h4.49v2.13h-4.49zM663.98 601.76h4.49v2.13h-4.49zM668.47 603.88h6.73v2.13h-6.73zM675.2 606.01h4.49v2.13h-4.49zM679.68 608.14h6.73v2.13h-6.73zM686.41 610.26h6.73v2.13h-6.73zM693.14 612.39h6.73v2.13h-6.73zM699.87 614.52h6.73v2.13h-6.73zM706.6 616.64h6.73v2.13h-6.73zM713.32 618.77h6.73v2.13h-6.73zM720.05 620.89h6.73v2.13h-6.73zM726.78 623.02h8.97v2.13h-8.97zM735.75 625.15h8.97v2.13h-8.97zM744.72 627.27h8.97v2.13h-8.97zM753.69 629.4h8.97v2.13h-8.97zM762.66 631.53h13.46v2.13h-13.46zM776.12 633.65h15.7v2.13h-15.7zM791.82 635.78h15.7v2.13h-15.7zM807.52 637.9h17.94v2.13h-17.94zM825.46 640.03h17.94v2.13h-17.94zM843.4 642.16h35.88v2.13h-35.88zM879.28 644.28h49.34v2.13h-49.34zM928.62 646.41h67.28v2.13h-67.28z"/>
<path fill="#0f0" d="M271.51 438.04h47.1v2.13h-47.1zM318.61 440.17h35.88v2.13h-35.88zM354.49 442.29h22.43v2.13h-22.43zM376.92 444.42h17.94v2.13h-17.94zM394.86 446.55h15.7v2.13h-15.7zM410.56 448.67h13.46v2.13h-13.46zM424.02 450.8h11.21v2.13h-11.21zM435.23 452.92h8.97v2.13h-8.97zM444.2 455.05h6.73v2.13h-6.73zM450.93 457.18h8.97v2.13h-8.97zM459.9 459.3h4.49v2.13h-4.49zM464.38 461.43h6.73v2.13h-6.73zM471.11 463.56h6.73v2.13h-6.73zM477.84 465.68h4.49v2.13h-4.49zM482.33 467.81h6.73v2.13h-6.73zM489.05 469.93h4.49v2.13h-4.49zM493.54 472.06h4.49v2.13h-4.49zM498.02 474.19h4.49v2.13h-4.49zM502.51 476.31h4.49v2.13h-4.49zM506.99 478.44h4.49v2.13h-4.49zM511.48 480.57h4.49v2.13h-4.49zM515.97 482.69h4.49v2.13h-4.49zM520.45 484.82h2.24v2.13h-2.24zM522.69 486.94h4.49v2.13h-4.49zM527.18 489.07h4.49v2.13h-4.49zM531.66 491.2h2.24v2.13h-2.24zM533.91 493.32h2.24v2.13h-2.24zM536.15 495.45h4.49v2.13h-4.49zM540.64 497.57h2.24v2.13h-2.24zM542.88 499.7h2.24v2.13h-2.24zM545.12 501.83h4.49v2.13h-4.49zM549.61 503.95h2.24v2.13h-2.24zM551.85 506.08h4.49v2.13h-4.49zM556.33 508.21h2.24v2.13h-2.24zM558.58 510.33h2.24v2.13h-2.24zM560.82 512.46h2.24v2.13h-2.24zM563.06 514.58h4.49v2.13h-4.49zM567.55 516.71h2.24v2.13h-2.24zM569.79 518.84h2.24v2.13h-2.24zM572.03 520.96h2.24v2.13h-2.24zM574.28 523.09h2.24v2.13h-2.24zM576.52 525.22h2.24v2.13h-2.24zM578.76 527.34h2.24v2.13h-2.24zM581 529.47h2.24v2.13h-2.24zM583.25 531.59h2.24v2.13h-2.24zM585.49 533.72h4.49v2.13h-4.49zM589.97 535.85h2.24v2.13h-2.24zM592.22 537.97h2.24v2.13h-2.24zM594.46 540.1h2.24v2.13h-2.24zM596.7 542.22h2.24v2.13h-2.24zM598.95 544.35h2.24v2.13h-2.24zM601.19 546.48h2.24v2.13h-2.24zM603.43 548.6h2.24v2.13h-2.24zM605.67 550.73h2.24v2.13h-2.24zM607.92 552.86h2.24v2.13h-2.24zM610.16 554.98h2.24v2.13h-2.24zM612.4 557.11h2.24v2.13h-2.24zM614.64 559.23h2.24v2.13h-2.24zM616.89 561.36h2.24v2.13h-2.24zM619.13 563.49h2.24v2.13h-2.24zM621.37 565.61h2.24v2.13h-2.24zM623.62 567.74h2.24v2.13h-2.24zM625.86 569.87h2.24v2.13h-2.24zM628.1 571.99h2.24v2.13h-2.24zM630.34 574.12h4.49v2.13h-4.49zM634.83 576.24h2.24v2.13h-2.24zM637.07 578.37h2.24v2.13h-2.24zM639.31 580.5h2.24v2.13h-2.24zM641.56 582.62h2.24v2.13h-2.24zM643.8 584.75h2.24v2.13h-2.24zM646.04 586.88h2.24v2.13h-2.24zM648.29 589h2.24v2.13h-2.24zM650.53 591.13h2.24v2.13h-2.24zM652.77 593.25h2.24v2.13h-2.24zM655.01 595.38h4.49v2.13h-4.49zM659.5 597.51h2.24v2.13h-2.24zM661.74 599.63h2.24v2.13h-2.24zM663.98 601.76h2.24v2.13h-2.24zM666.23 603.88h2.24v2.13h-2.24zM668.47 606.01h2.24v2.13h-2.24zM670.71 608.14h2.24v2.13h-2.24zM672.95 610.26h2.24v2.13h-2.24zM675.2 612.39h2.24v2.13h-2.24zM677.44 614.52h2.24v2.13h-2.24zM679.68 616.64h2.24v2.13h-2.24zM681.93 618.77h4.49v2.13h-4.49zM686.41 620.89h2.24v2.13h-2.24zM688.65 623.02h4.49v2.13h-4.49zM693.14 625.15h2.24v2.13h-2.24zM695.38 627.27h4.49v2.13h-4.49zM699.87 629.4h2.24v2.13h-2.24zM702.11 631.53h4.49v2.13h-4.49zM706.6 633.65h4.49v2.13h-4.49zM711.08 635.78h4.49v2.13h-4.49zM715.57 637.9h2.24v2.13h-2.24zM717.81 640.03h4.49v2.13h-4.49zM722.29 642.16h4.49v2.13h-4.49zM726.78 644.28h4.49v2.13h-4.49zM731.26 646.41h6.73v2.13h-6.73zM737.99 648.53h4.49v2.13h-4.49zM742.48 650.66h4.49v2.13h-4.49zM746.96 652.79h6.73v2.13h-6.73zM753.69 654.91h4.49v2.13h-4.49zM758.18 657.04h6.73v2.13h-6.73zM764.91 659.17h6.73v2.13h-6.73zM771.63 661.29h8.97v2.13h-8.97zM780.6 663.42h6.73v2.13h-6.73zM787.33 665.54h8.97v2.13h-8.97zM796.3 667.67h11.21v2.13h-11.21zM807.52 669.8h13.46v2.13h-13.46zM820.97 671.92h15.7v2.13h-15.7zM836.67 674.05h17.94v2.13h-17.94zM854.61 676.18h22.43v2.13h-22.43zM877.04 678.3h35.88v2.13h-35.88zM912.92 680.43h62.8v2.13h-62.8zM975.72 682.55h20.18v2.13h-20.18z"/>
<rect x="129.1" y="499.1" width="264.7" height="207.9" fill="#fff" stroke="#000" stroke-width="2.15"/>
<line x1="146" y1="522.4" x2="237.7" y2="522.4" stroke="#00f" stroke-width="2.05"/>
<line x1="146" y1="562.7" x2="237.7" y2="562.7" stroke="#f00" stroke-width="2.05"/>
<line x1="146" y1="603" x2="237.7" y2="603" stroke="#ff0" stroke-width="2.05"/>
<line x1="146" y1="641.7" x2="237.7" y2="641.7" stroke="#000" stroke-width="2.05"/>
<line x1="146" y1="682" x2="237.7" y2="682" stroke="#0f0" stroke-width="2.05"/>
<rect x="129.1" y="437.5" width="867.95" height="269.5" fill="none" stroke="#000" stroke-width="2.15"/>
<rect x="996.85" y="436.43" width="3.5" height="7" fill="#000"/>
<rect x="996.85" y="698.28" width="3.5" height="9.8" fill="#000"/>
<g fill="#000">
<rect x="87.77" y="23.7" width="2.25" height="2.13"/>
<rect x="87.77" y="40.77" width="2.25" height="2.13"/>
<rect x="90.01" y="21.57" width="2.25" height="2.13"/>
<rect x="90.01" y="38.63" width="2.25" height="4.27"/>
<rect x="92.25" y="21.57" width="2.25" height="2.13"/>
<rect x="92.25" y="36.5" width="2.25" height="2.13"/>
<rect x="92.25" y="40.77" width="2.25" height="2.13"/>
<rect x="94.5" y="21.57" width="2.25" height="2.13"/>
<rect x="94.5" y="34.37" width="2.25" height="2.13"/>
<rect x="94.5" y="40.77" width="2.25" height="2.13"/>
<rect x="96.75" y="21.57" width="2.25" height="2.13"/>
<rect x="96.75" y="32.23" width="2.25" height="2.13"/>
<rect x="96.75" y="40.77" width="2.25" height="2.13"/>
<rect x="98.99" y="23.7" width="2.25" height="8.53"/>
<rect x="98.99" y="40.77" width="2.25" height="2.13"/>
<rect x="90.01" y="21.57" width="8.98" height="2.13"/>
<rect x="87.77" y="40.77" width="13.47" height="2.13"/>
<rect x="103.48" y="23.7" width="2.25" height="17.06"/>
<rect x="105.73" y="21.57" width="2.25" height="2.13"/>
<rect x="105.73" y="40.77" width="2.25" height="2.13"/>
<rect x="107.97" y="21.57" width="2.25" height="2.13"/>
<rect x="107.97" y="40.77" width="2.25" height="2.13"/>
<rect x="110.22" y="21.57" width="2.25" height="2.13"/>
<rect x="110.22" y="40.77" width="2.25" height="2.13"/>
<rect x="112.46" y="21.57" width="2.25" height="2.13"/>
<rect x="112.46" y="40.77" width="2.25" height="2.13"/>
<rect x="114.71" y="23.7" width="2.25" height="17.06"/>
<rect x="105.73" y="21.57" width="8.98" height="2.13"/>
<rect x="105.73" y="40.77" width="8.98" height="2.13"/>
<rect x="103.48" y="91.4" width="2.25" height="17.06"/>
<rect x="105.73" y="89.27" width="2.25" height="2.13"/>
<rect x="105.73" y="108.47" width="2.25" height="2.13"/>
<rect x="107.97" y="89.27" width="2.25" height="2.13"/>
<rect x="107.97" y="108.47" width="2.25" height="2.13"/>
<rect x="110.22" y="89.27" width="2.25" height="2.13"/>
<rect x="110.22" y="108.47" width="2.25" height="2.13"/>
<rect x="112.46" y="89.27" width="2.25" height="2.13"/>
<rect x="112.46" y="108.47" width="2.25" height="2.13"/>
<rect x="114.71" y="91.4" width="2.25" height="17.06"/>
<rect x="105.73" y="89.27" width="8.98" height="2.13"/>
<rect x="105.73" y="108.47" width="8.98" height="2.13"/>
<rect x="78.78" y="170.07" width="2.25" height="2.13"/>
<rect x="81.03" y="170.07" width="2.25" height="2.13"/>
<rect x="83.27" y="170.07" width="2.25" height="2.13"/>
<rect x="78.78" y="170.07" width="6.74" height="2.13"/>
<rect x="87.77" y="159.4" width="2.25" height="2.13"/>
<rect x="87.77" y="176.47" width="2.25" height="2.13"/>
<rect x="90.01" y="157.27" width="2.25" height="2.13"/>
<rect x="90.01" y="174.33" width="2.25" height="4.27"/>
<rect x="92.25" y="157.27" width="2.25" height="2.13"/>
<rect x="92.25" y="172.2" width="2.25" height="2.13"/>
<rect x="92.25" y="176.47" width="2.25" height="2.13"/>
<rect x="94.5" y="157.27" width="2.25" height="2.13"/>
<rect x="94.5" y="170.07" width="2.25" height="2.13"/>
<rect x="94.5" y="176.47" width="2.25" height="2.13"/>
<rect x="96.75" y="157.27" width="2.25" height="2.13"/>
<rect x="96.75" y="167.93" width="2.25" height="2.13"/>
<rect x="96.75" y="176.47" width="2.25" height="2.13"/>
<rect x="98.99" y="159.4" width="2.25" height="8.53"/>
<rect x="98.99" y="176.47" width="2.25" height="2.13"/>
<rect x="90.01" y="157.27" width="8.98" height="2.13"/>
<rect x="87.77" y="176.47" width="13.47" height="2.13"/>
<rect x="103.48" y="159.4" width="2.25" height="17.06"/>
<rect x="105.73" y="157.27" width="2.25" height="2.13"/>
<rect x="105.73" y="176.47" width="2.25" height="2.13"/>
<rect x="107.97" y="157.27" width="2.25" height="2.13"/>
<rect x="107.97" y="176.47" width="2.25" height="2.13"/>
<rect x="110.22" y="157.27" width="2.25" height="2.13"/>
<rect x="110.22" y="176.47" width="2.25" height="2.13"/>
<rect x="112.46" y="157.27" width="2.25" height="2.13"/>
<rect x="112.46" y="176.47" width="2.25" height="2.13"/>
<rect x="114.71" y="159.4" width="2.25" height="17.06"/>
<rect x="105.73" y="157.27" width="8.98" height="2.13"/>
<rect x="105.73" y="176.47" width="8.98" height="2.13"/>
<rect x="78.78" y="238.07" width="2.25" height="2.13"/>
<rect x="81.03" y="238.07" width="2.25" height="2.13"/>
<rect x="83.27" y="238.07" width="2.25" height="2.13"/>
<rect x="78.78" y="238.07" width="6.74" height="2.13"/>
<rect x="87.77" y="240.2" width="2.25" height="2.13"/>
<rect x="90.01" y="235.93" width="2.25" height="6.4"/>
<rect x="92.25" y="231.67" width="2.25" height="4.27"/>
<rect x="92.25" y="240.2" width="2.25" height="2.13"/>
<rect x="94.5" y="227.4" width="2.25" height="4.27"/>
<rect x="94.5" y="240.2" width="2.25" height="2.13"/>
<rect x="96.75" y="225.27" width="2.25" height="21.33"/>
<rect x="98.99" y="240.2" width="2.25" height="2.13"/>
<rect x="94.5" y="227.4" width="4.49" height="2.13"/>
<rect x="94.5" y="229.54" width="4.49" height="2.13"/>
<rect x="87.77" y="240.2" width="13.47" height="2.13"/>
<rect x="103.48" y="227.4" width="2.25" height="17.06"/>
<rect x="105.73" y="225.27" width="2.25" height="2.13"/>
<rect x="105.73" y="244.47" width="2.25" height="2.13"/>
<rect x="107.97" y="225.27" width="2.25" height="2.13"/>
<rect x="107.97" y="244.47" width="2.25" height="2.13"/>
<rect x="110.22" y="225.27" width="2.25" height="2.13"/>
<rect x="110.22" y="244.47" width="2.25" height="2.13"/>
<rect x="112.46" y="225.27" width="2.25" height="2.13"/>
<rect x="112.46" y="244.47" width="2.25" height="2.13"/>
<rect x="114.71" y="227.4" width="2.25" height="17.06"/>
<rect x="105.73" y="225.27" width="8.98" height="2.13"/>
<rect x="105.73" y="244.47" width="8.98" height="2.13"/>
<rect x="78.78" y="306.37" width="2.25" height="2.13"/>
<rect x="81.03" y="306.37" width="2.25" height="2.13"/>
<rect x="83.27" y="306.37" width="2.25" height="2.13"/>
<rect x="78.78" y="306.37" width="6.74" height="2.13"/>
<rect x="87.77" y="295.7" width="2.25" height="17.06"/>
<rect x="90.01" y="293.57" width="2.25" height="2.13"/>
<rect x="90.01" y="304.24" width="2.25" height="2.13"/>
<rect x="90.01" y="312.77" width="2.25" height="2.13"/>
<rect x="92.25" y="293.57" width="2.25" height="2.13"/>
<rect x="92.25" y="302.1" width="2.25" height="2.13"/>
<rect x="92.25" y="312.77" width="2.25" height="2.13"/>
<rect x="94.5" y="293.57" width="2.25" height="2.13"/>
<rect x="94.5" y="302.1" width="2.25" height="2.13"/>
<rect x="94.5" y="312.77" width="2.25" height="2.13"/>
<rect x="96.75" y="293.57" width="2.25" height="2.13"/>
<rect x="96.75" y="302.1" width="2.25" height="2.13"/>
<rect x="96.75" y="312.77" width="2.25" height="2.13"/>
<rect x="98.99" y="295.7" width="2.25" height="2.13"/>
<rect x="98.99" y="304.24" width="2.25" height="8.53"/>
<rect x="90.01" y="293.57" width="8.98" height="2.13"/>
<rect x="92.25" y="302.1" width="6.74" height="2.13"/>
<rect x="87.77" y="304.24" width="4.49" height="2.13"/>
<rect x="90.01" y="312.77" width="8.98" height="2.13"/>
<rect x="103.48" y="295.7" width="2.25" height="17.06"/>
<rect x="105.73" y="293.57" width="2.25" height="2.13"/>
<rect x="105.73" y="312.77" width="2.25" height="2.13"/>
<rect x="107.97" y="293.57" width="2.25" height="2.13"/>
<rect x="107.97" y="312.77" width="2.25" height="2.13"/>
<rect x="110.22" y="293.57" width="2.25" height="2.13"/>
<rect x="110.22" y="312.77" width="2.25" height="2.13"/>
<rect x="112.46" y="293.57" width="2.25" height="2.13"/>
<rect x="112.46" y="312.77" width="2.25" height="2.13"/>
<rect x="114.71" y="295.7" width="2.25" height="17.06"/>
<rect x="105.73" y="293.57" width="8.98" height="2.13"/>
<rect x="105.73" y="312.77" width="8.98" height="2.13"/>
<rect x="103.48" y="427.5" width="2.25" height="17.06"/>
<rect x="105.73" y="425.37" width="2.25" height="2.13"/>
<rect x="105.73" y="444.57" width="2.25" height="2.13"/>
<rect x="107.97" y="425.37" width="2.25" height="2.13"/>
<rect x="107.97" y="444.57" width="2.25" height="2.13"/>
<rect x="110.22" y="425.37" width="2.25" height="2.13"/>
<rect x="110.22" y="444.57" width="2.25" height="2.13"/>
<rect x="112.46" y="425.37" width="2.25" height="2.13"/>
<rect x="112.46" y="444.57" width="2.25" height="2.13"/>
<rect x="114.71" y="427.5" width="2.25" height="17.06"/>
<rect x="105.73" y="425.37" width="8.98" height="2.13"/>
<rect x="105.73" y="444.57" width="8.98" height="2.13"/>
<rect x="78.78" y="504.67" width="2.25" height="2.13"/>
<rect x="81.03" y="504.67" width="2.25" height="2.13"/>
<rect x="83.27" y="504.67" width="2.25" height="2.13"/>
<rect x="78.78" y="504.67" width="6.74" height="2.13"/>
<rect x="87.77" y="494" width="2.25" height="2.13"/>
<rect x="87.77" y="511.07" width="2.25" height="2.13"/>
<rect x="90.01" y="491.87" width="2.25" height="2.13"/>
<rect x="90.01" y="508.93" width="2.25" height="4.27"/>
<rect x="92.25" y="491.87" width="2.25" height="2.13"/>
<rect x="92.25" y="506.8" width="2.25" height="2.13"/>
<rect x="92.25" y="511.07" width="2.25" height="2.13"/>
<rect x="94.5" y="491.87" width="2.25" height="2.13"/>
<rect x="94.5" y="504.67" width="2.25" height="2.13"/>
<rect x="94.5" y="511.07" width="2.25" height="2.13"/>
<rect x="96.75" y="491.87" width="2.25" height="2.13"/>
<rect x="96.75" y="502.54" width="2.25" height="2.13"/>
<rect x="96.75" y="511.07" width="2.25" height="2.13"/>
<rect x="98.99" y="494" width="2.25" height="8.53"/>
<rect x="98.99" y="511.07" width="2.25" height="2.13"/>
<rect x="90.01" y="491.87" width="8.98" height="2.13"/>
<rect x="87.77" y="511.07" width="13.47" height="2.13"/>
<rect x="103.48" y="494" width="2.25" height="17.06"/>
<rect x="105.73" y="491.87" width="2.25" height="2.13"/>
<rect x="105.73" y="511.07" width="2.25" height="2.13"/>
<rect x="107.97" y="491.87" width="2.25" height="2.13"/>
<rect x="107.97" y="511.07" width="2.25" height="2.13"/>
<rect x="110.22" y="491.87" width="2.25" height="2.13"/>
<rect x="110.22" y="511.07" width="2.25" height="2.13"/>
<rect x="112.46" y="491.87" width="2.25" height="2.13"/>
<rect x="112.46" y="511.07" width="2.25" height="2.13"/>
<rect x="114.71" y="494" width="2.25" height="17.06"/>
<rect x="105.73" y="491.87" width="8.98" height="2.13"/>
<rect x="105.73" y="511.07" width="8.98" height="2.13"/>
<rect x="78.78" y="572.67" width="2.25" height="2.13"/>
<rect x="81.03" y="572.67" width="2.25" height="2.13"/>
<rect x="83.27" y="572.67" width="2.25" height="2.13"/>
<rect x="78.78" y="572.67" width="6.74" height="2.13"/>
<rect x="87.77" y="574.8" width="2.25" height="2.13"/>
<rect x="90.01" y="570.53" width="2.25" height="6.4"/>
<rect x="92.25" y="566.27" width="2.25" height="4.27"/>
<rect x="92.25" y="574.8" width="2.25" height="2.13"/>
<rect x="94.5" y="562" width="2.25" height="4.27"/>
<rect x="94.5" y="574.8" width="2.25" height="2.13"/>
<rect x="96.75" y="559.87" width="2.25" height="21.33"/>
<rect x="98.99" y="574.8" width="2.25" height="2.13"/>
<rect x="94.5" y="562" width="4.49" height="2.13"/>
<rect x="94.5" y="564.14" width="4.49" height="2.13"/>
<rect x="87.77" y="574.8" width="13.47" height="2.13"/>
<rect x="103.48" y="562" width="2.25" height="17.06"/>
<rect x="105.73" y="559.87" width="2.25" height="2.13"/>
<rect x="105.73" y="579.07" width="2.25" height="2.13"/>
<rect x="107.97" y="559.87" width="2.25" height="2.13"/>
<rect x="107.97" y="579.07" width="2.25" height="2.13"/>
<rect x="110.22" y="559.87" width="2.25" height="2.13"/>
<rect x="110.22" y="579.07" width="2.25" height="2.13"/>
<rect x="112.46" y="559.87" width="2.25" height="2.13"/>
<rect x="112.46" y="579.07" width="2.25" height="2.13"/>
<rect x="114.71" y="562" width="2.25" height="17.06"/>
<rect x="105.73" y="559.87" width="8.98" height="2.13"/>
<rect x="105.73" y="579.07" width="8.98" height="2.13"/>
<rect x="78.78" y="640.27" width="2.25" height="2.13"/>
<rect x="81.03" y="640.27" width="2.25" height="2.13"/>
<rect x="83.27" y="640.27" width="2.25" height="2.13"/>
<rect x="78.78" y="640.27" width="6.74" height="2.13"/>
<rect x="87.77" y="629.6" width="2.25" height="17.06"/>
<rect x="90.01" y="627.47" width="2.25" height="2.13"/>
<rect x="90.01" y="638.13" width="2.25" height="2.13"/>
<rect x="90.01" y="646.67" width="2.25" height="2.13"/>
<rect x="92.25" y="627.47" width="2.25" height="2.13"/>
<rect x="92.25" y="636" width="2.25" height="2.13"/>
<rect x="92.25" y="646.67" width="2.25" height="2.13"/>
<rect x="94.5" y="627.47" width="2.25" height="2.13"/>
<rect x="94.5" y="636" width="2.25" height="2.13"/>
<rect x="94.5" y="646.67" width="2.25" height="2.13"/>
<rect x="96.75" y="627.47" width="2.25" height="2.13"/>
<rect x="96.75" y="636" width="2.25" height="2.13"/>
<rect x="96.75" y="646.67" width="2.25" height="2.13"/>
<rect x="98.99" y="629.6" width="2.25" height="2.13"/>
<rect x="98.99" y="638.13" width="2.25" height="8.53"/>
<rect x="90.01" y="627.47" width="8.98" height="2.13"/>
<rect x="92.25" y="636" width="6.74" height="2.13"/>
<rect x="87.77" y="638.13" width="4.49" height="2.13"/>
<rect x="90.01" y="646.67" width="8.98" height="2.13"/>
<rect x="103.48" y="629.6" width="2.25" height="17.06"/>
<rect x="105.73" y="627.47" width="2.25" height="2.13"/>
<rect x="105.73" y="646.67" width="2.25" height="2.13"/>
<rect x="107.97" y="627.47" width="2.25" height="2.13"/>
<rect x="107.97" y="646.67" width="2.25" height="2.13"/>
<rect x="110.22" y="627.47" width="2.25" height="2.13"/>
<rect x="110.22" y="646.67" width="2.25" height="2.13"/>
<rect x="112.46" y="627.47" width="2.25" height="2.13"/>
<rect x="112.46" y="646.67" width="2.25" height="2.13"/>
<rect x="114.71" y="629.6" width="2.25" height="17.06"/>
<rect x="105.73" y="627.47" width="8.98" height="2.13"/>
<rect x="105.73" y="646.67" width="8.98" height="2.13"/>
<rect x="78.78" y="708.27" width="2.25" height="2.13"/>
<rect x="81.03" y="708.27" width="2.25" height="2.13"/>
<rect x="83.27" y="708.27" width="2.25" height="2.13"/>
<rect x="78.78" y="708.27" width="6.74" height="2.13"/>
<rect x="87.77" y="697.6" width="2.25" height="6.4"/>
<rect x="87.77" y="706.13" width="2.25" height="8.53"/>
<rect x="90.01" y="695.47" width="2.25" height="2.13"/>
<rect x="90.01" y="704" width="2.25" height="2.13"/>
<rect x="90.01" y="714.67" width="2.25" height="2.13"/>
<rect x="92.25" y="695.47" width="2.25" height="2.13"/>
<rect x="92.25" y="704" width="2.25" height="2.13"/>
<rect x="92.25" y="714.67" width="2.25" height="2.13"/>
<rect x="94.5" y="695.47" width="2.25" height="2.13"/>
<rect x="94.5" y="704" width="2.25" height="2.13"/>
<rect x="94.5" y="714.67" width="2.25" height="2.13"/>
<rect x="96.75" y="695.47" width="2.25" height="2.13"/>
<rect x="96.75" y="704" width="2.25" height="2.13"/>
<rect x="96.75" y="714.67" width="2.25" height="2.13"/>
<rect x="98.99" y="697.6" width="2.25" height="6.4"/>
<rect x="98.99" y="706.13" width="2.25" height="8.53"/>
<rect x="90.01" y="695.47" width="8.98" height="2.13"/>
<rect x="90.01" y="704" width="8.98" height="2.13"/>
<rect x="90.01" y="714.67" width="8.98" height="2.13"/>
<rect x="103.48" y="697.6" width="2.25" height="17.06"/>
<rect x="105.73" y="695.47" width="2.25" height="2.13"/>
<rect x="105.73" y="714.67" width="2.25" height="2.13"/>
<rect x="107.97" y="695.47" width="2.25" height="2.13"/>
<rect x="107.97" y="714.67" width="2.25" height="2.13"/>
<rect x="110.22" y="695.47" width="2.25" height="2.13"/>
<rect x="110.22" y="714.67" width="2.25" height="2.13"/>
<rect x="112.46" y="695.47" width="2.25" height="2.13"/>
<rect x="112.46" y="714.67" width="2.25" height="2.13"/>
<rect x="114.71" y="697.6" width="2.25" height="17.06"/>
<rect x="105.73" y="695.47" width="8.98" height="2.13"/>
<rect x="105.73" y="714.67" width="8.98" height="2.13"/>
<rect x="105.5" y="331.72" width="2.25" height="2.13"/>
<rect x="107.75" y="329.58" width="2.25" height="2.13"/>
<rect x="109.99" y="327.45" width="2.25" height="21.33"/>
<rect x="107.75" y="329.58" width="4.49" height="2.13"/>
<rect x="118.97" y="329.58" width="2.25" height="17.06"/>
<rect x="121.22" y="327.45" width="2.25" height="2.13"/>
<rect x="121.22" y="346.65" width="2.25" height="2.13"/>
<rect x="123.46" y="327.45" width="2.25" height="2.13"/>
<rect x="123.46" y="346.65" width="2.25" height="2.13"/>
<rect x="125.7" y="327.45" width="2.25" height="2.13"/>
<rect x="125.7" y="346.65" width="2.25" height="2.13"/>
<rect x="127.95" y="327.45" width="2.25" height="2.13"/>
<rect x="127.95" y="346.65" width="2.25" height="2.13"/>
<rect x="130.19" y="329.58" width="2.25" height="17.06"/>
<rect x="121.22" y="327.45" width="8.98" height="2.13"/>
<rect x="121.22" y="346.65" width="8.98" height="2.13"/>
<rect x="135" y="323.53" width="2.25" height="2.13"/>
<rect x="137.25" y="323.53" width="2.25" height="2.13"/>
<rect x="135" y="323.53" width="4.49" height="2.13"/>
<rect x="141.74" y="317.13" width="2.25" height="2.13"/>
<rect x="141.74" y="325.66" width="2.25" height="2.13"/>
<rect x="143.98" y="315" width="2.25" height="2.13"/>
<rect x="143.98" y="327.8" width="2.25" height="2.13"/>
<rect x="146.23" y="315" width="2.25" height="2.13"/>
<rect x="146.23" y="321.4" width="2.25" height="2.13"/>
<rect x="146.23" y="327.8" width="2.25" height="2.13"/>
<rect x="148.47" y="317.13" width="2.25" height="4.27"/>
<rect x="148.47" y="323.53" width="2.25" height="4.27"/>
<rect x="143.98" y="315" width="4.49" height="2.13"/>
<rect x="143.98" y="327.8" width="4.49" height="2.13"/>
<rect x="249" y="331.72" width="2.25" height="2.13"/>
<rect x="251.25" y="329.58" width="2.25" height="2.13"/>
<rect x="253.49" y="327.45" width="2.25" height="21.33"/>
<rect x="251.25" y="329.58" width="4.49" height="2.13"/>
<rect x="262.47" y="329.58" width="2.25" height="17.06"/>
<rect x="264.72" y="327.45" width="2.25" height="2.13"/>
<rect x="264.72" y="346.65" width="2.25" height="2.13"/>
<rect x="266.96" y="327.45" width="2.25" height="2.13"/>
<rect x="266.96" y="346.65" width="2.25" height="2.13"/>
<rect x="269.21" y="327.45" width="2.25" height="2.13"/>
<rect x="269.21" y="346.65" width="2.25" height="2.13"/>
<rect x="271.45" y="327.45" width="2.25" height="2.13"/>
<rect x="271.45" y="346.65" width="2.25" height="2.13"/>
<rect x="273.7" y="329.58" width="2.25" height="17.06"/>
<rect x="264.72" y="327.45" width="8.98" height="2.13"/>
<rect x="264.72" y="346.65" width="8.98" height="2.13"/>
<rect x="278.2" y="323.53" width="2.25" height="2.13"/>
<rect x="280.44" y="323.53" width="2.25" height="2.13"/>
<rect x="278.2" y="323.53" width="4.49" height="2.13"/>
<rect x="284.94" y="317.13" width="2.25" height="2.13"/>
<rect x="284.94" y="327.8" width="2.25" height="2.13"/>
<rect x="287.18" y="315" width="2.25" height="2.13"/>
<rect x="287.18" y="325.66" width="2.25" height="4.27"/>
<rect x="289.43" y="315" width="2.25" height="2.13"/>
<rect x="289.43" y="321.4" width="2.25" height="4.27"/>
<rect x="289.43" y="327.8" width="2.25" height="2.13"/>
<rect x="291.67" y="317.13" width="2.25" height="4.27"/>
<rect x="291.67" y="327.8" width="2.25" height="2.13"/>
<rect x="287.18" y="315" width="4.49" height="2.13"/>
<rect x="284.94" y="327.8" width="8.98" height="2.13"/>
<rect x="395.1" y="331.72" width="2.25" height="2.13"/>
<rect x="397.35" y="329.58" width="2.25" height="2.13"/>
<rect x="399.59" y="327.45" width="2.25" height="21.33"/>
<rect x="397.35" y="329.58" width="4.49" height="2.13"/>
<rect x="408.57" y="329.58" width="2.25" height="17.06"/>
<rect x="410.82" y="327.45" width="2.25" height="2.13"/>
<rect x="410.82" y="346.65" width="2.25" height="2.13"/>
<rect x="413.06" y="327.45" width="2.25" height="2.13"/>
<rect x="413.06" y="346.65" width="2.25" height="2.13"/>
<rect x="415.31" y="327.45" width="2.25" height="2.13"/>
<rect x="415.31" y="346.65" width="2.25" height="2.13"/>
<rect x="417.55" y="327.45" width="2.25" height="2.13"/>
<rect x="417.55" y="346.65" width="2.25" height="2.13"/>
<rect x="419.8" y="329.58" width="2.25" height="17.06"/>
<rect x="410.82" y="327.45" width="8.98" height="2.13"/>
<rect x="410.82" y="346.65" width="8.98" height="2.13"/>
<rect x="424.1" y="323.53" width="2.25" height="2.13"/>
<rect x="426.35" y="323.53" width="2.25" height="2.13"/>
<rect x="424.1" y="323.53" width="4.49" height="2.13"/>
<rect x="433.08" y="317.13" width="2.25" height="2.13"/>
<rect x="435.33" y="315" width="2.25" height="14.93"/>
<rect x="433.08" y="317.13" width="4.49" height="2.13"/>
<rect x="545.4" y="331.72" width="2.25" height="2.13"/>
<rect x="547.64" y="329.58" width="2.25" height="2.13"/>
<rect x="549.89" y="327.45" width="2.25" height="21.33"/>
<rect x="547.64" y="329.58" width="4.49" height="2.13"/>
<rect x="558.87" y="329.58" width="2.25" height="17.06"/>
<rect x="561.12" y="327.45" width="2.25" height="2.13"/>
<rect x="561.12" y="346.65" width="2.25" height="2.13"/>
<rect x="563.36" y="327.45" width="2.25" height="2.13"/>
<rect x="563.36" y="346.65" width="2.25" height="2.13"/>
<rect x="565.61" y="327.45" width="2.25" height="2.13"/>
<rect x="565.61" y="346.65" width="2.25" height="2.13"/>
<rect x="567.85" y="327.45" width="2.25" height="2.13"/>
<rect x="567.85" y="346.65" width="2.25" height="2.13"/>
<rect x="570.1" y="329.58" width="2.25" height="17.06"/>
<rect x="561.12" y="327.45" width="8.98" height="2.13"/>
<rect x="561.12" y="346.65" width="8.98" height="2.13"/>
<rect x="575.2" y="317.13" width="2.25" height="10.66"/>
<rect x="577.45" y="315" width="2.25" height="2.13"/>
<rect x="577.45" y="327.8" width="2.25" height="2.13"/>
<rect x="579.69" y="315" width="2.25" height="2.13"/>
<rect x="579.69" y="327.8" width="2.25" height="2.13"/>
<rect x="581.94" y="317.13" width="2.25" height="10.66"/>
<rect x="577.45" y="315" width="4.49" height="2.13"/>
<rect x="577.45" y="327.8" width="4.49" height="2.13"/>
<rect x="688.7" y="331.72" width="2.25" height="2.13"/>
<rect x="690.95" y="329.58" width="2.25" height="2.13"/>
<rect x="693.19" y="327.45" width="2.25" height="21.33"/>
<rect x="690.95" y="329.58" width="4.49" height="2.13"/>
<rect x="702.17" y="329.58" width="2.25" height="17.06"/>
<rect x="704.42" y="327.45" width="2.25" height="2.13"/>
<rect x="704.42" y="346.65" width="2.25" height="2.13"/>
<rect x="706.66" y="327.45" width="2.25" height="2.13"/>
<rect x="706.66" y="346.65" width="2.25" height="2.13"/>
<rect x="708.91" y="327.45" width="2.25" height="2.13"/>
<rect x="708.91" y="346.65" width="2.25" height="2.13"/>
<rect x="711.15" y="327.45" width="2.25" height="2.13"/>
<rect x="711.15" y="346.65" width="2.25" height="2.13"/>
<rect x="713.4" y="329.58" width="2.25" height="17.06"/>
<rect x="704.42" y="327.45" width="8.98" height="2.13"/>
<rect x="704.42" y="346.65" width="8.98" height="2.13"/>
<rect x="719.8" y="317.13" width="2.25" height="2.13"/>
<rect x="722.04" y="315" width="2.25" height="14.93"/>
<rect x="719.8" y="317.13" width="4.49" height="2.13"/>
<rect x="834.1" y="331.72" width="2.25" height="2.13"/>
<rect x="836.35" y="329.58" width="2.25" height="2.13"/>
<rect x="838.59" y="327.45" width="2.25" height="21.33"/>
<rect x="836.35" y="329.58" width="4.49" height="2.13"/>
<rect x="847.57" y="329.58" width="2.25" height="17.06"/>
<rect x="849.82" y="327.45" width="2.25" height="2.13"/>
<rect x="849.82" y="346.65" width="2.25" height="2.13"/>
<rect x="852.06" y="327.45" width="2.25" height="2.13"/>
<rect x="852.06" y="346.65" width="2.25" height="2.13"/>
<rect x="854.31" y="327.45" width="2.25" height="2.13"/>
<rect x="854.31" y="346.65" width="2.25" height="2.13"/>
<rect x="856.55" y="327.45" width="2.25" height="2.13"/>
<rect x="856.55" y="346.65" width="2.25" height="2.13"/>
<rect x="858.8" y="329.58" width="2.25" height="17.06"/>
<rect x="849.82" y="327.45" width="8.98" height="2.13"/>
<rect x="849.82" y="346.65" width="8.98" height="2.13"/>
<rect x="863.7" y="317.13" width="2.25" height="2.13"/>
<rect x="863.7" y="327.8" width="2.25" height="2.13"/>
<rect x="865.95" y="315" width="2.25" height="2.13"/>
<rect x="865.95" y="325.66" width="2.25" height="4.27"/>
<rect x="868.19" y="315" width="2.25" height="2.13"/>
<rect x="868.19" y="321.4" width="2.25" height="4.27"/>
<rect x="868.19" y="327.8" width="2.25" height="2.13"/>
<rect x="870.44" y="317.13" width="2.25" height="4.27"/>
<rect x="870.44" y="327.8" width="2.25" height="2.13"/>
<rect x="865.95" y="315" width="4.49" height="2.13"/>
<rect x="863.7" y="327.8" width="8.98" height="2.13"/>
<rect x="980.2" y="331.72" width="2.25" height="2.13"/>
<rect x="982.45" y="329.58" width="2.25" height="2.13"/>
<rect x="984.69" y="327.45" width="2.25" height="21.33"/>
<rect x="982.45" y="329.58" width="4.49" height="2.13"/>
<rect x="993.67" y="329.58" width="2.25" height="17.06"/>
<rect x="995.92" y="327.45" width="2.25" height="2.13"/>
<rect x="995.92" y="346.65" width="2.25" height="2.13"/>
<rect x="998.16" y="327.45" width="2.25" height="2.13"/>
<rect x="998.16" y="346.65" width="2.25" height="2.13"/>
<rect x="1000.41" y="327.45" width="2.25" height="2.13"/>
<rect x="1000.41" y="346.65" width="2.25" height="2.13"/>
<rect x="1002.65" y="327.45" width="2.25" height="2.13"/>
<rect x="1002.65" y="346.65" width="2.25" height="2.13"/>
<rect x="1004.9" y="329.58" width="2.25" height="17.06"/>
<rect x="995.92" y="327.45" width="8.98" height="2.13"/>
<rect x="995.92" y="346.65" width="8.98" height="2.13"/>
<rect x="1009.2" y="317.13" width="2.25" height="2.13"/>
<rect x="1009.2" y="325.66" width="2.25" height="2.13"/>
<rect x="1011.45" y="315" width="2.25" height="2.13"/>
<rect x="1011.45" y="327.8" width="2.25" height="2.13"/>
<rect x="1013.69" y="315" width="2.25" height="2.13"/>
<rect x="1013.69" y="321.4" width="2.25" height="2.13"/>
<rect x="1013.69" y="327.8" width="2.25" height="2.13"/>
<rect x="1015.94" y="317.13" width="2.25" height="4.27"/>
<rect x="1015.94" y="323.53" width="2.25" height="4.27"/>
<rect x="1011.45" y="315" width="4.49" height="2.13"/>
<rect x="1011.45" y="327.8" width="4.49" height="2.13"/>
<rect x="105.5" y="733.72" width="2.25" height="2.13"/>
<rect x="107.75" y="731.58" width="2.25" height="2.13"/>
<rect x="109.99" y="729.45" width="2.25" height="21.33"/>
<rect x="107.75" y="731.58" width="4.49" height="2.13"/>
<rect x="118.97" y="731.58" width="2.25" height="17.06"/>
<rect x="121.22" y="729.45" width="2.25" height="2.13"/>
<rect x="121.22" y="748.65" width="2.25" height="2.13"/>
<rect x="123.46" y="729.45" width="2.25" height="2.13"/>
<rect x="123.46" y="748.65" width="2.25" height="2.13"/>
<rect x="125.7" y="729.45" width="2.25" height="2.13"/>
<rect x="125.7" y="748.65" width="2.25" height="2.13"/>
<rect x="127.95" y="729.45" width="2.25" height="2.13"/>
<rect x="127.95" y="748.65" width="2.25" height="2.13"/>
<rect x="130.19" y="731.58" width="2.25" height="17.06"/>
<rect x="121.22" y="729.45" width="8.98" height="2.13"/>
<rect x="121.22" y="748.65" width="8.98" height="2.13"/>
<rect x="135" y="725.53" width="2.25" height="2.13"/>
<rect x="137.25" y="725.53" width="2.25" height="2.13"/>
<rect x="135" y="725.53" width="4.49" height="2.13"/>
<rect x="141.74" y="719.13" width="2.25" height="2.13"/>
<rect x="141.74" y="727.66" width="2.25" height="2.13"/>
<rect x="143.98" y="717" width="2.25" height="2.13"/>
<rect x="143.98" y="729.8" width="2.25" height="2.13"/>
<rect x="146.23" y="717" width="2.25" height="2.13"/>
<rect x="146.23" y="723.4" width="2.25" height="2.13"/>
<rect x="146.23" y="729.8" width="2.25" height="2.13"/>
<rect x="148.47" y="719.13" width="2.25" height="4.27"/>
<rect x="148.47" y="725.53" width="2.25" height="4.27"/>
<rect x="143.98" y="717" width="4.49" height="2.13"/>
<rect x="143.98" y="729.8" width="4.49" height="2.13"/>
<rect x="249" y="733.72" width="2.25" height="2.13"/>
<rect x="251.25" y="731.58" width="2.25" height="2.13"/>
<rect x="253.49" y="729.45" width="2.25" height="21.33"/>
<rect x="251.25" y="731.58" width="4.49" height="2.13"/>
<rect x="262.47" y="731.58" width="2.25" height="17.06"/>
<rect x="264.72" y="729.45" width="2.25" height="2.13"/>
<rect x="264.72" y="748.65" width="2.25" height="2.13"/>
<rect x="266.96" y="729.45" width="2.25" height="2.13"/>
<rect x="266.96" y="748.65" width="2.25" height="2.13"/>
<rect x="269.21" y="729.45" width="2.25" height="2.13"/>
<rect x="269.21" y="748.65" width="2.25" height="2.13"/>
<rect x="271.45" y="729.45" width="2.25" height="2.13"/>
<rect x="271.45" y="748.65" width="2.25" height="2.13"/>
<rect x="273.7" y="731.58" width="2.25" height="17.06"/>
<rect x="264.72" y="729.45" width="8.98" height="2.13"/>
<rect x="264.72" y="748.65" width="8.98" height="2.13"/>
<rect x="278.2" y="725.53" width="2.25" height="2.13"/>
<rect x="280.44" y="725.53" width="2.25" height="2.13"/>
<rect x="278.2" y="725.53" width="4.49" height="2.13"/>
<rect x="284.94" y="719.13" width="2.25" height="2.13"/>
<rect x="284.94" y="729.8" width="2.25" height="2.13"/>
<rect x="287.18" y="717" width="2.25" height="2.13"/>
<rect x="287.18" y="727.66" width="2.25" height="4.27"/>
<rect x="289.43" y="717" width="2.25" height="2.13"/>
<rect x="289.43" y="723.4" width="2.25" height="4.27"/>
<rect x="289.43" y="729.8" width="2.25" height="2.13"/>
<rect x="291.67" y="719.13" width="2.25" height="4.27"/>
<rect x="291.67" y="729.8" width="2.25" height="2.13"/>
<rect x="287.18" y="717" width="4.49" height="2.13"/>
<rect x="284.94" y="729.8" width="8.98" height="2.13"/>
<rect x="395.1" y="733.72" width="2.25" height="2.13"/>
<rect x="397.35" y="731.58" width="2.25" height="2.13"/>
<rect x="399.59" y="729.45" width="2.25" height="21.33"/>
<rect x="397.35" y="731.58" width="4.49" height="2.13"/>
<rect x="408.57" y="731.58" width="2.25" height="17.06"/>
<rect x="410.82" y="729.45" width="2.25" height="2.13"/>
<rect x="410.82" y="748.65" width="2.25" height="2.13"/>
<rect x="413.06" y="729.45" width="2.25" height="2.13"/>
<rect x="413.06" y="748.65" width="2.25" height="2.13"/>
<rect x="415.31" y="729.45" width="2.25" height="2.13"/>
<rect x="415.31" y="748.65" width="2.25" height="2.13"/>
<rect x="417.55" y="729.45" width="2.25" height="2.13"/>
<rect x="417.55" y="748.65" width="2.25" height="2.13"/>
<rect x="419.8" y="731.58" width="2.25" height="17.06"/>
<rect x="410.82" y="729.45" width="8.98" height="2.13"/>
<rect x="410.82" y="748.65" width="8.98" height="2.13"/>
<rect x="424.1" y="725.53" width="2.25" height="2.13"/>
<rect x="426.35" y="725.53" width="2.25" height="2.13"/>
<rect x="424.1" y="725.53" width="4.49" height="2.13"/>
<rect x="433.08" y="719.13" width="2.25" height="2.13"/>
<rect x="435.33" y="717" width="2.25" height="14.93"/>
<rect x="433.08" y="719.13" width="4.49" height="2.13"/>
<rect x="545.4" y="733.72" width="2.25" height="2.13"/>
<rect x="547.64" y="731.58" width="2.25" height="2.13"/>
<rect x="549.89" y="729.45" width="2.25" height="21.33"/>
<rect x="547.64" y="731.58" width="4.49" height="2.13"/>
<rect x="558.87" y="731.58" width="2.25" height="17.06"/>
<rect x="561.12" y="729.45" width="2.25" height="2.13"/>
<rect x="561.12" y="748.65" width="2.25" height="2.13"/>
<rect x="563.36" y="729.45" width="2.25" height="2.13"/>
<rect x="563.36" y="748.65" width="2.25" height="2.13"/>
<rect x="565.61" y="729.45" width="2.25" height="2.13"/>
<rect x="565.61" y="748.65" width="2.25" height="2.13"/>
<rect x="567.85" y="729.45" width="2.25" height="2.13"/>
<rect x="567.85" y="748.65" width="2.25" height="2.13"/>
<rect x="570.1" y="731.58" width="2.25" height="17.06"/>
<rect x="561.12" y="729.45" width="8.98" height="2.13"/>
<rect x="561.12" y="748.65" width="8.98" height="2.13"/>
<rect x="575.2" y="719.13" width="2.25" height="10.66"/>
<rect x="577.45" y="717" width="2.25" height="2.13"/>
<rect x="577.45" y="729.8" width="2.25" height="2.13"/>
<rect x="579.69" y="717" width="2.25" height="2.13"/>
<rect x="579.69" y="729.8" width="2.25" height="2.13"/>
<rect x="581.94" y="719.13" width="2.25" height="10.66"/>
<rect x="577.45" y="717" width="4.49" height="2.13"/>
<rect x="577.45" y="729.8" width="4.49" height="2.13"/>
<rect x="688.7" y="733.72" width="2.25" height="2.13"/>
<rect x="690.95" y="731.58" width="2.25" height="2.13"/>
<rect x="693.19" y="729.45" width="2.25" height="21.33"/>
<rect x="690.95" y="731.58" width="4.49" height="2.13"/>
<rect x="702.17" y="731.58" width="2.25" height="17.06"/>
<rect x="704.42" y="729.45" width="2.25" height="2.13"/>
<rect x="704.42" y="748.65" width="2.25" height="2.13"/>
<rect x="706.66" y="729.45" width="2.25" height="2.13"/>
<rect x="706.66" y="748.65" width="2.25" height="2.13"/>
<rect x="708.91" y="729.45" width="2.25" height="2.13"/>
<rect x="708.91" y="748.65" width="2.25" height="2.13"/>
<rect x="711.15" y="729.45" width="2.25" height="2.13"/>
<rect x="711.15" y="748.65" width="2.25" height="2.13"/>
<rect x="713.4" y="731.58" width="2.25" height="17.06"/>
<rect x="704.42" y="729.45" width="8.98" height="2.13"/>
<rect x="704.42" y="748.65" width="8.98" height="2.13"/>
<rect x="719.8" y="719.13" width="2.25" height="2.13"/>
<rect x="722.04" y="717" width="2.25" height="14.93"/>
<rect x="719.8" y="719.13" width="4.49" height="2.13"/>
<rect x="834.1" y="733.72" width="2.25" height="2.13"/>
<rect x="836.35" y="731.58" width="2.25" height="2.13"/>
<rect x="838.59" y="729.45" width="2.25" height="21.33"/>
<rect x="836.35" y="731.58" width="4.49" height="2.13"/>
<rect x="847.57" y="731.58" width="2.25" height="17.06"/>
<rect x="849.82" y="729.45" width="2.25" height="2.13"/>
<rect x="849.82" y="748.65" width="2.25" height="2.13"/>
<rect x="852.06" y="729.45" width="2.25" height="2.13"/>
<rect x="852.06" y="748.65" width="2.25" height="2.13"/>
<rect x="854.31" y="729.45" width="2.25" height="2.13"/>
<rect x="854.31" y="748.65" width="2.25" height="2.13"/>
<rect x="856.55" y="729.45" width="2.25" height="2.13"/>
<rect x="856.55" y="748.65" width="2.25" height="2.13"/>
<rect x="858.8" y="731.58" width="2.25" height="17.06"/>
<rect x="849.82" y="729.45" width="8.98" height="2.13"/>
<rect x="849.82" y="748.65" width="8.98" height="2.13"/>
<rect x="863.7" y="719.13" width="2.25" height="2.13"/>
<rect x="863.7" y="729.8" width="2.25" height="2.13"/>
<rect x="865.95" y="717" width="2.25" height="2.13"/>
<rect x="865.95" y="727.66" width="2.25" height="4.27"/>
<rect x="868.19" y="717" width="2.25" height="2.13"/>
<rect x="868.19" y="723.4" width="2.25" height="4.27"/>
<rect x="868.19" y="729.8" width="2.25" height="2.13"/>
<rect x="870.44" y="719.13" width="2.25" height="4.27"/>
<rect x="870.44" y="729.8" width="2.25" height="2.13"/>
<rect x="865.95" y="717" width="4.49" height="2.13"/>
<rect x="863.7" y="729.8" width="8.98" height="2.13"/>
<rect x="980.2" y="733.72" width="2.25" height="2.13"/>
<rect x="982.45" y="731.58" width="2.25" height="2.13"/>
<rect x="984.69" y="729.45" width="2.25" height="21.33"/>
<rect x="982.45" y="731.58" width="4.49" height="2.13"/>
<rect x="993.67" y="731.58" width="2.25" height="17.06"/>
<rect x="995.92" y="729.45" width="2.25" height="2.13"/>
<rect x="995.92" y="748.65" width="2.25" height="2.13"/>
<rect x="998.16" y="729.45" width="2.25" height="2.13"/>
<rect x="998.16" y="748.65" width="2.25" height="2.13"/>
<rect x="1000.41" y="729.45" width="2.25" height="2.13"/>
<rect x="1000.41" y="748.65" width="2.25" height="2.13"/>
<rect x="1002.65" y="729.45" width="2.25" height="2.13"/>
<rect x="1002.65" y="748.65" width="2.25" height="2.13"/>
<rect x="1004.9" y="731.58" width="2.25" height="17.06"/>
<rect x="995.92" y="729.45" width="8.98" height="2.13"/>
<rect x="995.92" y="748.65" width="8.98" height="2.13"/>
<rect x="1009.2" y="719.13" width="2.25" height="2.13"/>
<rect x="1009.2" y="727.66" width="2.25" height="2.13"/>
<rect x="1011.45" y="717" width="2.25" height="2.13"/>
<rect x="1011.45" y="729.8" width="2.25" height="2.13"/>
<rect x="1013.69" y="717" width="2.25" height="2.13"/>
<rect x="1013.69" y="723.4" width="2.25" height="2.13"/>
<rect x="1013.69" y="729.8" width="2.25" height="2.13"/>
<rect x="1015.94" y="719.13" width="2.25" height="4.27"/>
<rect x="1015.94" y="725.53" width="2.25" height="4.27"/>
<rect x="1011.45" y="717" width="4.49" height="2.13"/>
<rect x="1011.45" y="729.8" width="4.49" height="2.13"/>
</g>
<g opacity="0.999" stroke="#fff">
<text transform="translate(243.71 534) scale(0.9891 1.09)" font-size="28.5" stroke-width="0.5">True</text>
<text transform="translate(243.61 574.6) scale(1.0544 1.09)" font-size="28.5" stroke-width="0.5">PRBS</text>
<text transform="translate(244.77 614.8) scale(1.0535 1.09)" font-size="28.5" stroke-width="0.5">VFS</text>
<text transform="translate(244.91 653.4) scale(1.0226 1.09)" font-size="28.5" stroke-width="0.5">Sawtooth</text>
<text transform="translate(244.94 692.9) scale(1.0050 1.09)" font-size="28.5" stroke-width="0.5">Sin-sweep</text>
<text transform="translate(450.34 385.2) scale(1.0229 1.09)" font-size="28.5" stroke-width="0.5">Frequency(rad/s)</text>
<text transform="translate(450.34 787.2) scale(1.0229 1.09)" font-size="28.5" stroke-width="0.5">Frequency(rad/s)</text>
<text transform="translate(56.2 252.19) rotate(-90) scale(0.9141 1.1)" font-size="28.5" stroke-width="0.5">Magnitude(dB)</text>
<text transform="translate(56.2 653.77) rotate(-90) scale(0.9065 1.1)" font-size="28.5" stroke-width="0.5">Phase(degree)</text>
</g>
</svg>
</body>
</html>
